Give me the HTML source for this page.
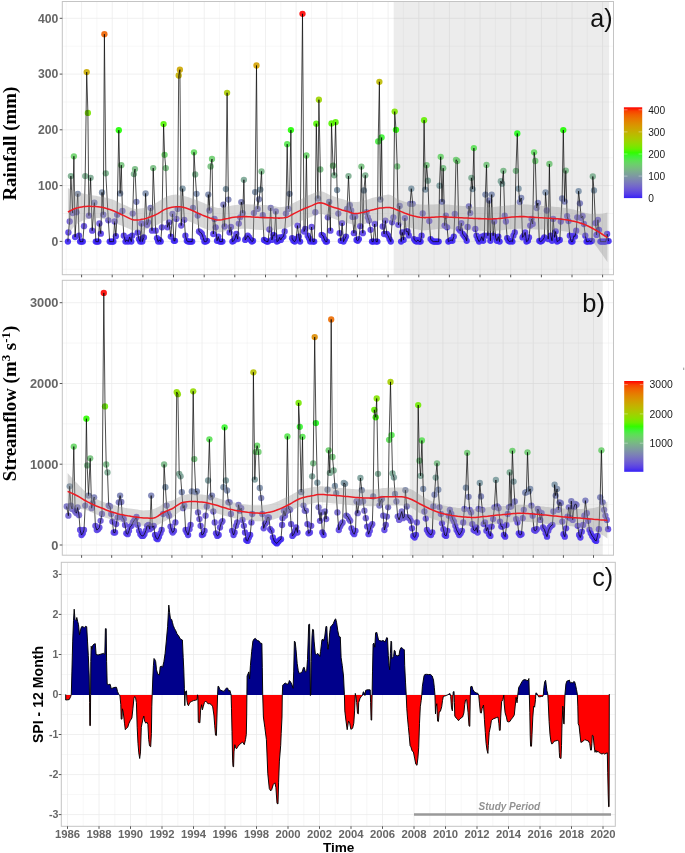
<!DOCTYPE html>
<html><head><meta charset="utf-8"><title>Rainfall, Streamflow and SPI</title>
<style>html,body{margin:0;padding:0;background:#fff}body{width:685px;height:853px;overflow:hidden;font-family:"Liberation Sans",sans-serif}svg{display:block;will-change:transform}</style></head>
<body>
<svg width="685" height="853" viewBox="0 0 685 853" font-family="'Liberation Sans', sans-serif">
<rect width="685" height="853" fill="#fff"/>
<rect x="62.3" y="1.5" width="551.2" height="273.2" fill="#fff"/>
<path d="M66.3 1.5V274.7M96.9 1.5V274.7M127.6 1.5V274.7M158.2 1.5V274.7M188.9 1.5V274.7M219.6 1.5V274.7M250.2 1.5V274.7M280.8 1.5V274.7M311.5 1.5V274.7M342.1 1.5V274.7M372.8 1.5V274.7M403.4 1.5V274.7M434.1 1.5V274.7M464.8 1.5V274.7M495.4 1.5V274.7M526 1.5V274.7M556.7 1.5V274.7M587.3 1.5V274.7M62.3 269.3H613.5M62.3 213.5H613.5M62.3 157.7H613.5M62.3 102H613.5M62.3 46.2H613.5" stroke="#ebebeb" stroke-width="0.4" fill="none"/>
<path d="M81.6 1.5V274.7M112.2 1.5V274.7M142.9 1.5V274.7M173.5 1.5V274.7M204.2 1.5V274.7M234.8 1.5V274.7M265.5 1.5V274.7M296.1 1.5V274.7M326.8 1.5V274.7M357.4 1.5V274.7M388.1 1.5V274.7M418.8 1.5V274.7M449.4 1.5V274.7M480 1.5V274.7M510.7 1.5V274.7M541.4 1.5V274.7M572 1.5V274.7M602.6 1.5V274.7M62.3 241.4H613.5M62.3 185.6H613.5M62.3 129.8H613.5M62.3 74.1H613.5M62.3 18.3H613.5" stroke="#ebebeb" stroke-width="0.75" fill="none"/>
<rect x="393.7" y="1.5" width="215.4" height="273.2" fill="#7f7f7f" fill-opacity="0.15"/>
<clipPath id="ca"><rect x="62.3" y="1.5" width="551.2" height="273.2"/></clipPath><g clip-path="url(#ca)">
<g fill-opacity="0.9"><circle cx="67.9" cy="241.6" r="3.15" fill="#3d26f4"/><circle cx="68.4" cy="232.4" r="3.15" fill="#583fe6"/><circle cx="69.7" cy="221.5" r="3.15" fill="#6a57d6"/><circle cx="70.9" cy="176.1" r="3.15" fill="#7bad8e"/><circle cx="72.6" cy="213.1" r="3.15" fill="#7368c9"/><circle cx="73.9" cy="156.3" r="3.15" fill="#6ad168"/><circle cx="75.1" cy="237.1" r="3.15" fill="#4c33ed"/><circle cx="76.5" cy="212.2" r="3.15" fill="#746ac8"/><circle cx="77.8" cy="193.8" r="3.15" fill="#7d8dac"/><circle cx="79.0" cy="235.7" r="3.15" fill="#5037eb"/><circle cx="80.1" cy="241.6" r="3.15" fill="#3d26f4"/><circle cx="81.5" cy="241.6" r="3.15" fill="#3d26f4"/><circle cx="82.8" cy="241.6" r="3.15" fill="#3d26f4"/><circle cx="84.0" cy="226.2" r="3.15" fill="#634ddd"/><circle cx="85.2" cy="176.1" r="3.15" fill="#7bad8e"/><circle cx="86.7" cy="72.1" r="3.15" fill="#c9aa00"/><circle cx="87.9" cy="112.9" r="3.15" fill="#7ce600"/><circle cx="88.9" cy="215.6" r="3.15" fill="#7163cd"/><circle cx="90.6" cy="177.8" r="3.15" fill="#7caa91"/><circle cx="92.2" cy="230.7" r="3.15" fill="#5b43e4"/><circle cx="94.4" cy="202.7" r="3.15" fill="#7a7cba"/><circle cx="95.8" cy="241.6" r="3.15" fill="#3d26f4"/><circle cx="97.1" cy="241.6" r="3.15" fill="#3d26f4"/><circle cx="98.4" cy="241.6" r="3.15" fill="#3d26f4"/><circle cx="99.4" cy="223.5" r="3.15" fill="#6753d9"/><circle cx="100.8" cy="233.7" r="3.15" fill="#553ce8"/><circle cx="102.0" cy="192.4" r="3.15" fill="#7d8fa9"/><circle cx="103.3" cy="214.7" r="3.15" fill="#7165cc"/><circle cx="104.4" cy="34.2" r="3.15" fill="#f06300"/><circle cx="105.8" cy="173.3" r="3.15" fill="#79b389"/><circle cx="108.3" cy="220.3" r="3.15" fill="#6b5ad4"/><circle cx="109.7" cy="241.6" r="3.15" fill="#3d26f4"/><circle cx="111.0" cy="241.6" r="3.15" fill="#3d26f4"/><circle cx="112.4" cy="241.6" r="3.15" fill="#3d26f4"/><circle cx="113.4" cy="241.6" r="3.15" fill="#3d26f4"/><circle cx="114.6" cy="221.5" r="3.15" fill="#6a57d6"/><circle cx="115.9" cy="236.2" r="3.15" fill="#4e36ec"/><circle cx="117.1" cy="214.7" r="3.15" fill="#7165cc"/><circle cx="118.8" cy="130.2" r="3.15" fill="#1ffd00"/><circle cx="120.1" cy="193.4" r="3.15" fill="#7d8eab"/><circle cx="121.3" cy="165.2" r="3.15" fill="#74c17b"/><circle cx="122.4" cy="210.9" r="3.15" fill="#756cc6"/><circle cx="123.8" cy="235.7" r="3.15" fill="#5037eb"/><circle cx="125.5" cy="241.6" r="3.15" fill="#3d26f4"/><circle cx="126.8" cy="239.9" r="3.15" fill="#432bf1"/><circle cx="128.2" cy="241.6" r="3.15" fill="#3d26f4"/><circle cx="129.7" cy="237.1" r="3.15" fill="#4c33ed"/><circle cx="131.3" cy="241.6" r="3.15" fill="#3d26f4"/><circle cx="132.2" cy="235.7" r="3.15" fill="#5037eb"/><circle cx="132.7" cy="213.6" r="3.15" fill="#7367ca"/><circle cx="133.9" cy="174.1" r="3.15" fill="#7ab18b"/><circle cx="135.0" cy="169.1" r="3.15" fill="#77ba82"/><circle cx="136.4" cy="201.8" r="3.15" fill="#7a7eb8"/><circle cx="137.6" cy="232.7" r="3.15" fill="#573ee7"/><circle cx="138.9" cy="239.1" r="3.15" fill="#462ef0"/><circle cx="140.2" cy="241.6" r="3.15" fill="#3d26f4"/><circle cx="141.4" cy="223.5" r="3.15" fill="#6753d9"/><circle cx="142.3" cy="241.6" r="3.15" fill="#3d26f4"/><circle cx="143.9" cy="237.4" r="3.15" fill="#4b33ee"/><circle cx="145.6" cy="193.4" r="3.15" fill="#7d8eab"/><circle cx="147.0" cy="224.8" r="3.15" fill="#6550db"/><circle cx="148.1" cy="222.3" r="3.15" fill="#6956d7"/><circle cx="150.6" cy="208.0" r="3.15" fill="#7772c2"/><circle cx="152.0" cy="230.7" r="3.15" fill="#5b43e4"/><circle cx="153.2" cy="168.1" r="3.15" fill="#76bc80"/><circle cx="155.7" cy="230.7" r="3.15" fill="#5b43e4"/><circle cx="157.0" cy="238.2" r="3.15" fill="#4930ef"/><circle cx="158.2" cy="241.6" r="3.15" fill="#3d26f4"/><circle cx="159.4" cy="239.9" r="3.15" fill="#432bf1"/><circle cx="160.7" cy="241.6" r="3.15" fill="#3d26f4"/><circle cx="161.9" cy="227.3" r="3.15" fill="#614bdf"/><circle cx="163.6" cy="124.1" r="3.15" fill="#51f500"/><circle cx="164.6" cy="154.8" r="3.15" fill="#67d465"/><circle cx="165.8" cy="168.1" r="3.15" fill="#76bc80"/><circle cx="167.4" cy="227.3" r="3.15" fill="#614bdf"/><circle cx="169.1" cy="222.3" r="3.15" fill="#6956d7"/><circle cx="170.8" cy="236.6" r="3.15" fill="#4d35ec"/><circle cx="172.5" cy="213.9" r="3.15" fill="#7267cb"/><circle cx="173.9" cy="240.8" r="3.15" fill="#4029f3"/><circle cx="175.0" cy="240.8" r="3.15" fill="#4029f3"/><circle cx="176.4" cy="218.9" r="3.15" fill="#6d5cd2"/><circle cx="177.6" cy="208.9" r="3.15" fill="#7670c3"/><circle cx="178.7" cy="75.5" r="3.15" fill="#c5b000"/><circle cx="179.9" cy="69.7" r="3.15" fill="#cca600"/><circle cx="181.2" cy="225.6" r="3.15" fill="#644edc"/><circle cx="182.6" cy="188.7" r="3.15" fill="#7d96a4"/><circle cx="184.3" cy="219.8" r="3.15" fill="#6c5bd4"/><circle cx="185.4" cy="235.7" r="3.15" fill="#5037eb"/><circle cx="186.8" cy="240.8" r="3.15" fill="#4029f3"/><circle cx="188.1" cy="241.6" r="3.15" fill="#3d26f4"/><circle cx="189.5" cy="241.6" r="3.15" fill="#3d26f4"/><circle cx="190.8" cy="241.6" r="3.15" fill="#3d26f4"/><circle cx="192.2" cy="241.6" r="3.15" fill="#3d26f4"/><circle cx="193.0" cy="208.0" r="3.15" fill="#7772c2"/><circle cx="194.0" cy="152.3" r="3.15" fill="#63d95f"/><circle cx="195.2" cy="174.4" r="3.15" fill="#7ab08c"/><circle cx="196.5" cy="193.8" r="3.15" fill="#7d8dac"/><circle cx="197.7" cy="215.6" r="3.15" fill="#7163cd"/><circle cx="199.0" cy="231.5" r="3.15" fill="#5941e5"/><circle cx="200.6" cy="232.4" r="3.15" fill="#583fe6"/><circle cx="201.9" cy="234.0" r="3.15" fill="#543be9"/><circle cx="203.1" cy="237.4" r="3.15" fill="#4b33ee"/><circle cx="204.4" cy="241.6" r="3.15" fill="#3d26f4"/><circle cx="205.8" cy="241.6" r="3.15" fill="#3d26f4"/><circle cx="207.1" cy="240.8" r="3.15" fill="#4029f3"/><circle cx="208.3" cy="194.6" r="3.15" fill="#7d8bad"/><circle cx="209.4" cy="210.5" r="3.15" fill="#756dc6"/><circle cx="210.6" cy="166.4" r="3.15" fill="#75bf7d"/><circle cx="212.0" cy="159.0" r="3.15" fill="#6dcd6e"/><circle cx="213.3" cy="234.0" r="3.15" fill="#543be9"/><circle cx="214.5" cy="218.9" r="3.15" fill="#6d5cd2"/><circle cx="215.7" cy="227.3" r="3.15" fill="#614bdf"/><circle cx="217.0" cy="240.8" r="3.15" fill="#4029f3"/><circle cx="218.3" cy="236.6" r="3.15" fill="#4d35ec"/><circle cx="219.7" cy="241.6" r="3.15" fill="#3d26f4"/><circle cx="221.0" cy="241.6" r="3.15" fill="#3d26f4"/><circle cx="222.4" cy="241.6" r="3.15" fill="#3d26f4"/><circle cx="223.4" cy="204.7" r="3.15" fill="#7978bd"/><circle cx="224.6" cy="226.5" r="3.15" fill="#634dde"/><circle cx="225.9" cy="189.1" r="3.15" fill="#7d96a4"/><circle cx="227.1" cy="92.8" r="3.15" fill="#aaca00"/><circle cx="228.4" cy="199.6" r="3.15" fill="#7b82b5"/><circle cx="229.6" cy="232.4" r="3.15" fill="#583fe6"/><circle cx="230.9" cy="227.0" r="3.15" fill="#624bde"/><circle cx="232.4" cy="241.6" r="3.15" fill="#3d26f4"/><circle cx="233.8" cy="240.8" r="3.15" fill="#4029f3"/><circle cx="235.1" cy="238.2" r="3.15" fill="#4930ef"/><circle cx="236.3" cy="234.0" r="3.15" fill="#543be9"/><circle cx="237.7" cy="239.1" r="3.15" fill="#462ef0"/><circle cx="238.8" cy="223.6" r="3.15" fill="#6753d9"/><circle cx="240.2" cy="217.3" r="3.15" fill="#6f60d0"/><circle cx="241.3" cy="202.1" r="3.15" fill="#7a7db9"/><circle cx="242.7" cy="213.1" r="3.15" fill="#7368c9"/><circle cx="243.9" cy="179.8" r="3.15" fill="#7ca795"/><circle cx="245.2" cy="239.9" r="3.15" fill="#432bf1"/><circle cx="246.5" cy="238.2" r="3.15" fill="#4930ef"/><circle cx="247.7" cy="235.7" r="3.15" fill="#5037eb"/><circle cx="249.1" cy="237.4" r="3.15" fill="#4b33ee"/><circle cx="250.6" cy="239.9" r="3.15" fill="#432bf1"/><circle cx="251.9" cy="241.6" r="3.15" fill="#3d26f4"/><circle cx="253.1" cy="240.8" r="3.15" fill="#4029f3"/><circle cx="253.9" cy="213.1" r="3.15" fill="#7368c9"/><circle cx="255.1" cy="192.1" r="3.15" fill="#7d90a9"/><circle cx="256.5" cy="65.5" r="3.15" fill="#d1a000"/><circle cx="257.6" cy="208.9" r="3.15" fill="#7670c3"/><circle cx="259.0" cy="199.3" r="3.15" fill="#7c83b4"/><circle cx="260.3" cy="189.6" r="3.15" fill="#7d95a5"/><circle cx="261.5" cy="171.4" r="3.15" fill="#78b686"/><circle cx="262.8" cy="215.2" r="3.15" fill="#7164cd"/><circle cx="264.0" cy="239.9" r="3.15" fill="#432bf1"/><circle cx="265.4" cy="240.8" r="3.15" fill="#4029f3"/><circle cx="266.7" cy="241.6" r="3.15" fill="#3d26f4"/><circle cx="268.0" cy="241.6" r="3.15" fill="#3d26f4"/><circle cx="269.4" cy="229.5" r="3.15" fill="#5d46e2"/><circle cx="270.7" cy="208.0" r="3.15" fill="#7772c2"/><circle cx="271.9" cy="239.9" r="3.15" fill="#432bf1"/><circle cx="273.2" cy="234.9" r="3.15" fill="#5239ea"/><circle cx="274.4" cy="235.7" r="3.15" fill="#5037eb"/><circle cx="275.8" cy="211.4" r="3.15" fill="#746bc7"/><circle cx="276.9" cy="241.6" r="3.15" fill="#3d26f4"/><circle cx="278.3" cy="240.8" r="3.15" fill="#4029f3"/><circle cx="279.6" cy="237.4" r="3.15" fill="#4b33ee"/><circle cx="280.8" cy="239.9" r="3.15" fill="#432bf1"/><circle cx="282.1" cy="237.4" r="3.15" fill="#4b33ee"/><circle cx="283.4" cy="236.6" r="3.15" fill="#4d35ec"/><circle cx="284.7" cy="231.5" r="3.15" fill="#5941e5"/><circle cx="285.9" cy="213.6" r="3.15" fill="#7367ca"/><circle cx="287.2" cy="144.2" r="3.15" fill="#52e74a"/><circle cx="288.4" cy="208.9" r="3.15" fill="#7670c3"/><circle cx="289.6" cy="193.8" r="3.15" fill="#7d8dac"/><circle cx="290.9" cy="130.1" r="3.15" fill="#20fd00"/><circle cx="292.1" cy="238.2" r="3.15" fill="#4930ef"/><circle cx="293.4" cy="240.8" r="3.15" fill="#4029f3"/><circle cx="294.8" cy="241.6" r="3.15" fill="#3d26f4"/><circle cx="296.1" cy="239.1" r="3.15" fill="#462ef0"/><circle cx="297.5" cy="225.6" r="3.15" fill="#644edc"/><circle cx="298.8" cy="236.6" r="3.15" fill="#4d35ec"/><circle cx="300.1" cy="241.6" r="3.15" fill="#3d26f4"/><circle cx="302.5" cy="13.8" r="3.15" fill="#ff0200"/><circle cx="304.0" cy="231.5" r="3.15" fill="#5941e5"/><circle cx="305.2" cy="229.0" r="3.15" fill="#5e47e1"/><circle cx="306.4" cy="155.5" r="3.15" fill="#68d367"/><circle cx="307.7" cy="235.7" r="3.15" fill="#5037eb"/><circle cx="309.0" cy="238.2" r="3.15" fill="#4930ef"/><circle cx="310.2" cy="241.6" r="3.15" fill="#3d26f4"/><circle cx="311.6" cy="227.0" r="3.15" fill="#624bde"/><circle cx="312.9" cy="241.6" r="3.15" fill="#3d26f4"/><circle cx="314.2" cy="241.6" r="3.15" fill="#3d26f4"/><circle cx="315.3" cy="212.2" r="3.15" fill="#746ac8"/><circle cx="316.3" cy="123.7" r="3.15" fill="#53f500"/><circle cx="317.9" cy="198.5" r="3.15" fill="#7c84b3"/><circle cx="318.9" cy="99.7" r="3.15" fill="#9cd400"/><circle cx="320.3" cy="169.4" r="3.15" fill="#77ba82"/><circle cx="321.6" cy="234.9" r="3.15" fill="#5239ea"/><circle cx="323.0" cy="235.7" r="3.15" fill="#5037eb"/><circle cx="324.3" cy="239.1" r="3.15" fill="#462ef0"/><circle cx="325.7" cy="241.6" r="3.15" fill="#3d26f4"/><circle cx="327.0" cy="241.6" r="3.15" fill="#3d26f4"/><circle cx="327.8" cy="217.3" r="3.15" fill="#6f60d0"/><circle cx="329.2" cy="201.8" r="3.15" fill="#7a7eb8"/><circle cx="330.4" cy="230.7" r="3.15" fill="#5b43e4"/><circle cx="331.5" cy="123.4" r="3.15" fill="#54f400"/><circle cx="333.0" cy="165.7" r="3.15" fill="#74c07c"/><circle cx="334.2" cy="175.3" r="3.15" fill="#7aaf8d"/><circle cx="335.6" cy="122.2" r="3.15" fill="#5af300"/><circle cx="337.1" cy="190.1" r="3.15" fill="#7d94a6"/><circle cx="338.3" cy="213.6" r="3.15" fill="#7367ca"/><circle cx="339.6" cy="233.2" r="3.15" fill="#563de8"/><circle cx="340.8" cy="240.8" r="3.15" fill="#4029f3"/><circle cx="342.1" cy="223.1" r="3.15" fill="#6854d9"/><circle cx="343.5" cy="241.6" r="3.15" fill="#3d26f4"/><circle cx="344.8" cy="239.1" r="3.15" fill="#462ef0"/><circle cx="346.0" cy="236.6" r="3.15" fill="#4d35ec"/><circle cx="347.1" cy="208.9" r="3.15" fill="#7670c3"/><circle cx="348.5" cy="176.1" r="3.15" fill="#7bad8e"/><circle cx="349.8" cy="205.2" r="3.15" fill="#7977bd"/><circle cx="351.2" cy="210.5" r="3.15" fill="#756dc6"/><circle cx="352.5" cy="216.9" r="3.15" fill="#6f60cf"/><circle cx="353.9" cy="233.2" r="3.15" fill="#563de8"/><circle cx="355.2" cy="216.4" r="3.15" fill="#7062ce"/><circle cx="356.5" cy="239.9" r="3.15" fill="#432bf1"/><circle cx="357.7" cy="240.8" r="3.15" fill="#4029f3"/><circle cx="358.9" cy="239.1" r="3.15" fill="#462ef0"/><circle cx="360.2" cy="226.2" r="3.15" fill="#634ddd"/><circle cx="361.4" cy="166.6" r="3.15" fill="#75bf7d"/><circle cx="362.8" cy="233.2" r="3.15" fill="#563de8"/><circle cx="363.9" cy="190.4" r="3.15" fill="#7d93a6"/><circle cx="365.3" cy="175.3" r="3.15" fill="#7aaf8d"/><circle cx="366.5" cy="212.2" r="3.15" fill="#746ac8"/><circle cx="367.8" cy="217.3" r="3.15" fill="#6f60d0"/><circle cx="369.0" cy="220.6" r="3.15" fill="#6b59d5"/><circle cx="370.6" cy="229.8" r="3.15" fill="#5d45e3"/><circle cx="372.0" cy="241.6" r="3.15" fill="#3d26f4"/><circle cx="373.3" cy="241.6" r="3.15" fill="#3d26f4"/><circle cx="374.7" cy="224.0" r="3.15" fill="#6652da"/><circle cx="376.0" cy="241.6" r="3.15" fill="#3d26f4"/><circle cx="377.4" cy="241.6" r="3.15" fill="#3d26f4"/><circle cx="378.2" cy="141.4" r="3.15" fill="#49ed41"/><circle cx="379.4" cy="81.8" r="3.15" fill="#bcb900"/><circle cx="380.4" cy="199.6" r="3.15" fill="#7b82b5"/><circle cx="381.6" cy="137.5" r="3.15" fill="#3bf432"/><circle cx="382.7" cy="226.5" r="3.15" fill="#634dde"/><circle cx="384.1" cy="234.0" r="3.15" fill="#543be9"/><circle cx="385.4" cy="220.6" r="3.15" fill="#6b59d5"/><circle cx="386.8" cy="234.0" r="3.15" fill="#543be9"/><circle cx="388.1" cy="235.7" r="3.15" fill="#5037eb"/><circle cx="389.5" cy="239.1" r="3.15" fill="#462ef0"/><circle cx="390.8" cy="241.6" r="3.15" fill="#3d26f4"/><circle cx="392.1" cy="222.3" r="3.15" fill="#6956d7"/><circle cx="393.4" cy="217.3" r="3.15" fill="#6f60d0"/><circle cx="394.7" cy="111.6" r="3.15" fill="#80e400"/><circle cx="396.0" cy="129.8" r="3.15" fill="#25fd00"/><circle cx="397.2" cy="166.4" r="3.15" fill="#75bf7d"/><circle cx="398.4" cy="224.8" r="3.15" fill="#6550db"/><circle cx="399.7" cy="206.0" r="3.15" fill="#7876bf"/><circle cx="401.1" cy="241.6" r="3.15" fill="#3d26f4"/><circle cx="402.3" cy="232.4" r="3.15" fill="#583fe6"/><circle cx="403.6" cy="239.9" r="3.15" fill="#432bf1"/><circle cx="404.9" cy="218.1" r="3.15" fill="#6e5ed1"/><circle cx="406.3" cy="231.5" r="3.15" fill="#5941e5"/><circle cx="407.6" cy="231.5" r="3.15" fill="#5941e5"/><circle cx="408.8" cy="235.4" r="3.15" fill="#5038eb"/><circle cx="410.1" cy="203.8" r="3.15" fill="#7a7abb"/><circle cx="411.3" cy="188.7" r="3.15" fill="#7d96a4"/><circle cx="412.7" cy="203.8" r="3.15" fill="#7a7abb"/><circle cx="414.0" cy="239.1" r="3.15" fill="#462ef0"/><circle cx="415.2" cy="240.8" r="3.15" fill="#4029f3"/><circle cx="416.5" cy="241.6" r="3.15" fill="#3d26f4"/><circle cx="417.9" cy="239.9" r="3.15" fill="#432bf1"/><circle cx="419.2" cy="241.6" r="3.15" fill="#3d26f4"/><circle cx="420.6" cy="241.6" r="3.15" fill="#3d26f4"/><circle cx="421.6" cy="235.7" r="3.15" fill="#5037eb"/><circle cx="422.7" cy="213.4" r="3.15" fill="#7368ca"/><circle cx="424.1" cy="120.2" r="3.15" fill="#63f000"/><circle cx="425.3" cy="189.6" r="3.15" fill="#7d95a5"/><circle cx="426.6" cy="165.2" r="3.15" fill="#74c17b"/><circle cx="427.9" cy="180.7" r="3.15" fill="#7ca596"/><circle cx="429.3" cy="221.1" r="3.15" fill="#6a58d6"/><circle cx="430.6" cy="239.1" r="3.15" fill="#462ef0"/><circle cx="432.0" cy="240.8" r="3.15" fill="#4029f3"/><circle cx="433.3" cy="241.6" r="3.15" fill="#3d26f4"/><circle cx="434.7" cy="241.6" r="3.15" fill="#3d26f4"/><circle cx="436.0" cy="241.6" r="3.15" fill="#3d26f4"/><circle cx="437.3" cy="241.6" r="3.15" fill="#3d26f4"/><circle cx="438.7" cy="241.6" r="3.15" fill="#3d26f4"/><circle cx="439.5" cy="185.7" r="3.15" fill="#7d9c9f"/><circle cx="440.7" cy="156.8" r="3.15" fill="#6ad16a"/><circle cx="442.0" cy="201.8" r="3.15" fill="#7a7eb8"/><circle cx="443.2" cy="168.2" r="3.15" fill="#76bc80"/><circle cx="444.6" cy="225.6" r="3.15" fill="#644edc"/><circle cx="445.9" cy="215.6" r="3.15" fill="#7163cd"/><circle cx="447.1" cy="227.3" r="3.15" fill="#614bdf"/><circle cx="448.4" cy="241.6" r="3.15" fill="#3d26f4"/><circle cx="449.8" cy="240.8" r="3.15" fill="#4029f3"/><circle cx="451.1" cy="239.9" r="3.15" fill="#432bf1"/><circle cx="452.4" cy="240.8" r="3.15" fill="#4029f3"/><circle cx="453.8" cy="236.6" r="3.15" fill="#4d35ec"/><circle cx="454.8" cy="213.9" r="3.15" fill="#7267cb"/><circle cx="456.0" cy="159.8" r="3.15" fill="#6ecb70"/><circle cx="457.3" cy="161.0" r="3.15" fill="#6fc972"/><circle cx="458.8" cy="229.0" r="3.15" fill="#5e47e1"/><circle cx="460.2" cy="230.7" r="3.15" fill="#5b43e4"/><circle cx="461.3" cy="223.1" r="3.15" fill="#6854d9"/><circle cx="462.7" cy="234.0" r="3.15" fill="#543be9"/><circle cx="464.0" cy="235.7" r="3.15" fill="#5037eb"/><circle cx="465.4" cy="237.4" r="3.15" fill="#4b33ee"/><circle cx="466.7" cy="240.8" r="3.15" fill="#4029f3"/><circle cx="467.6" cy="227.0" r="3.15" fill="#624bde"/><circle cx="468.9" cy="206.3" r="3.15" fill="#7875bf"/><circle cx="470.2" cy="213.1" r="3.15" fill="#7368c9"/><circle cx="471.4" cy="177.8" r="3.15" fill="#7caa91"/><circle cx="472.6" cy="189.1" r="3.15" fill="#7d96a4"/><circle cx="473.9" cy="148.1" r="3.15" fill="#5be055"/><circle cx="475.3" cy="229.0" r="3.15" fill="#5e47e1"/><circle cx="476.5" cy="235.7" r="3.15" fill="#5037eb"/><circle cx="477.8" cy="239.1" r="3.15" fill="#462ef0"/><circle cx="479.1" cy="241.6" r="3.15" fill="#3d26f4"/><circle cx="480.5" cy="239.9" r="3.15" fill="#432bf1"/><circle cx="481.8" cy="236.6" r="3.15" fill="#4d35ec"/><circle cx="483.2" cy="240.8" r="3.15" fill="#4029f3"/><circle cx="484.3" cy="235.7" r="3.15" fill="#5037eb"/><circle cx="485.4" cy="194.6" r="3.15" fill="#7d8bad"/><circle cx="486.5" cy="164.9" r="3.15" fill="#73c27a"/><circle cx="487.9" cy="235.7" r="3.15" fill="#5037eb"/><circle cx="489.2" cy="200.5" r="3.15" fill="#7b80b6"/><circle cx="490.4" cy="240.8" r="3.15" fill="#4029f3"/><circle cx="491.7" cy="194.6" r="3.15" fill="#7d8bad"/><circle cx="493.1" cy="235.7" r="3.15" fill="#5037eb"/><circle cx="494.2" cy="221.5" r="3.15" fill="#6a57d6"/><circle cx="495.6" cy="237.4" r="3.15" fill="#4b33ee"/><circle cx="496.9" cy="240.8" r="3.15" fill="#4029f3"/><circle cx="498.3" cy="236.6" r="3.15" fill="#4d35ec"/><circle cx="499.6" cy="241.6" r="3.15" fill="#3d26f4"/><circle cx="500.8" cy="181.2" r="3.15" fill="#7da497"/><circle cx="502.1" cy="183.7" r="3.15" fill="#7da09b"/><circle cx="503.4" cy="170.8" r="3.15" fill="#78b785"/><circle cx="504.7" cy="215.6" r="3.15" fill="#7163cd"/><circle cx="505.9" cy="221.5" r="3.15" fill="#6a57d6"/><circle cx="507.2" cy="238.2" r="3.15" fill="#4930ef"/><circle cx="508.4" cy="240.8" r="3.15" fill="#4029f3"/><circle cx="509.7" cy="241.6" r="3.15" fill="#3d26f4"/><circle cx="511.1" cy="240.8" r="3.15" fill="#4029f3"/><circle cx="512.4" cy="241.6" r="3.15" fill="#3d26f4"/><circle cx="513.4" cy="235.7" r="3.15" fill="#5037eb"/><circle cx="514.8" cy="232.4" r="3.15" fill="#583fe6"/><circle cx="515.9" cy="170.8" r="3.15" fill="#78b785"/><circle cx="517.3" cy="133.5" r="3.15" fill="#21fb1b"/><circle cx="518.6" cy="188.7" r="3.15" fill="#7d96a4"/><circle cx="519.8" cy="202.1" r="3.15" fill="#7a7db9"/><circle cx="521.2" cy="198.0" r="3.15" fill="#7c85b2"/><circle cx="522.5" cy="237.4" r="3.15" fill="#4b33ee"/><circle cx="523.8" cy="235.7" r="3.15" fill="#5037eb"/><circle cx="525.2" cy="232.4" r="3.15" fill="#583fe6"/><circle cx="526.5" cy="241.6" r="3.15" fill="#3d26f4"/><circle cx="527.9" cy="240.8" r="3.15" fill="#4029f3"/><circle cx="529.0" cy="237.4" r="3.15" fill="#4b33ee"/><circle cx="530.2" cy="225.6" r="3.15" fill="#644edc"/><circle cx="531.6" cy="218.9" r="3.15" fill="#6d5cd2"/><circle cx="532.7" cy="224.0" r="3.15" fill="#6652da"/><circle cx="534.1" cy="152.3" r="3.15" fill="#63d95f"/><circle cx="535.3" cy="161.0" r="3.15" fill="#6fc972"/><circle cx="536.6" cy="208.0" r="3.15" fill="#7772c2"/><circle cx="537.9" cy="203.0" r="3.15" fill="#7a7cba"/><circle cx="539.3" cy="240.8" r="3.15" fill="#4029f3"/><circle cx="540.6" cy="241.6" r="3.15" fill="#3d26f4"/><circle cx="542.0" cy="240.8" r="3.15" fill="#4029f3"/><circle cx="543.3" cy="239.1" r="3.15" fill="#462ef0"/><circle cx="544.3" cy="237.4" r="3.15" fill="#4b33ee"/><circle cx="545.5" cy="192.4" r="3.15" fill="#7d8fa9"/><circle cx="546.8" cy="210.5" r="3.15" fill="#756dc6"/><circle cx="548.2" cy="239.1" r="3.15" fill="#462ef0"/><circle cx="549.4" cy="164.0" r="3.15" fill="#73c378"/><circle cx="550.7" cy="235.7" r="3.15" fill="#5037eb"/><circle cx="552.0" cy="240.8" r="3.15" fill="#4029f3"/><circle cx="553.2" cy="218.9" r="3.15" fill="#6d5cd2"/><circle cx="554.6" cy="237.4" r="3.15" fill="#4b33ee"/><circle cx="555.7" cy="231.5" r="3.15" fill="#5941e5"/><circle cx="557.1" cy="241.6" r="3.15" fill="#3d26f4"/><circle cx="558.4" cy="240.8" r="3.15" fill="#4029f3"/><circle cx="559.8" cy="239.9" r="3.15" fill="#432bf1"/><circle cx="560.8" cy="221.5" r="3.15" fill="#6a57d6"/><circle cx="562.1" cy="198.5" r="3.15" fill="#7c84b3"/><circle cx="563.3" cy="130.1" r="3.15" fill="#20fd00"/><circle cx="564.6" cy="201.6" r="3.15" fill="#7b7eb8"/><circle cx="565.8" cy="170.6" r="3.15" fill="#78b785"/><circle cx="567.1" cy="216.1" r="3.15" fill="#7062ce"/><circle cx="568.5" cy="221.1" r="3.15" fill="#6a58d6"/><circle cx="569.8" cy="235.7" r="3.15" fill="#5037eb"/><circle cx="571.2" cy="241.6" r="3.15" fill="#3d26f4"/><circle cx="572.5" cy="241.6" r="3.15" fill="#3d26f4"/><circle cx="573.9" cy="235.7" r="3.15" fill="#5037eb"/><circle cx="575.0" cy="236.6" r="3.15" fill="#4d35ec"/><circle cx="576.2" cy="230.7" r="3.15" fill="#5b43e4"/><circle cx="577.2" cy="217.3" r="3.15" fill="#6f60d0"/><circle cx="578.6" cy="191.2" r="3.15" fill="#7d92a8"/><circle cx="579.9" cy="203.3" r="3.15" fill="#7a7bbb"/><circle cx="581.2" cy="218.1" r="3.15" fill="#6e5ed1"/><circle cx="582.6" cy="216.1" r="3.15" fill="#7062ce"/><circle cx="583.9" cy="224.0" r="3.15" fill="#6652da"/><circle cx="585.3" cy="235.7" r="3.15" fill="#5037eb"/><circle cx="586.6" cy="241.6" r="3.15" fill="#3d26f4"/><circle cx="588.0" cy="241.6" r="3.15" fill="#3d26f4"/><circle cx="589.3" cy="240.8" r="3.15" fill="#4029f3"/><circle cx="590.6" cy="241.6" r="3.15" fill="#3d26f4"/><circle cx="592.0" cy="240.8" r="3.15" fill="#4029f3"/><circle cx="592.8" cy="176.5" r="3.15" fill="#7bad8f"/><circle cx="594.0" cy="190.4" r="3.15" fill="#7d93a6"/><circle cx="595.4" cy="223.1" r="3.15" fill="#6854d9"/><circle cx="596.5" cy="234.9" r="3.15" fill="#5239ea"/><circle cx="597.9" cy="219.8" r="3.15" fill="#6c5bd4"/><circle cx="599.0" cy="229.8" r="3.15" fill="#5d45e3"/><circle cx="600.4" cy="241.6" r="3.15" fill="#3d26f4"/><circle cx="601.7" cy="241.6" r="3.15" fill="#3d26f4"/><circle cx="603.1" cy="241.6" r="3.15" fill="#3d26f4"/><circle cx="604.4" cy="241.6" r="3.15" fill="#3d26f4"/><circle cx="605.8" cy="241.6" r="3.15" fill="#3d26f4"/><circle cx="607.1" cy="234.0" r="3.15" fill="#543be9"/><circle cx="608.6" cy="241.1" r="3.15" fill="#3f28f3"/></g>
<path d="M67.9 241.6L68.4 232.4L69.7 221.5L70.9 176.1L72.6 213.1L73.9 156.3L75.1 237.1L76.5 212.2L77.8 193.8L79.0 235.7L80.1 241.6L81.5 241.6L82.8 241.6L84.0 226.2L85.2 176.1L86.7 72.1L87.9 112.9L88.9 215.6L90.6 177.8L92.2 230.7L94.4 202.7L95.8 241.6L97.1 241.6L98.4 241.6L99.4 223.5L100.8 233.7L102.0 192.4L103.3 214.7L104.4 34.2L105.8 173.3L108.3 220.3L109.7 241.6L111.0 241.6L112.4 241.6L113.4 241.6L114.6 221.5L115.9 236.2L117.1 214.7L118.8 130.2L120.1 193.4L121.3 165.2L122.4 210.9L123.8 235.7L125.5 241.6L126.8 239.9L128.2 241.6L129.7 237.1L131.3 241.6L132.2 235.7L132.7 213.6L133.9 174.1L135.0 169.1L136.4 201.8L137.6 232.7L138.9 239.1L140.2 241.6L141.4 223.5L142.3 241.6L143.9 237.4L145.6 193.4L147.0 224.8L148.1 222.3L150.6 208.0L152.0 230.7L153.2 168.1L155.7 230.7L157.0 238.2L158.2 241.6L159.4 239.9L160.7 241.6L161.9 227.3L163.6 124.1L164.6 154.8L165.8 168.1L167.4 227.3L169.1 222.3L170.8 236.6L172.5 213.9L173.9 240.8L175.0 240.8L176.4 218.9L177.6 208.9L178.7 75.5L179.9 69.7L181.2 225.6L182.6 188.7L184.3 219.8L185.4 235.7L186.8 240.8L188.1 241.6L189.5 241.6L190.8 241.6L192.2 241.6L193.0 208.0L194.0 152.3L195.2 174.4L196.5 193.8L197.7 215.6L199.0 231.5L200.6 232.4L201.9 234.0L203.1 237.4L204.4 241.6L205.8 241.6L207.1 240.8L208.3 194.6L209.4 210.5L210.6 166.4L212.0 159.0L213.3 234.0L214.5 218.9L215.7 227.3L217.0 240.8L218.3 236.6L219.7 241.6L221.0 241.6L222.4 241.6L223.4 204.7L224.6 226.5L225.9 189.1L227.1 92.8L228.4 199.6L229.6 232.4L230.9 227.0L232.4 241.6L233.8 240.8L235.1 238.2L236.3 234.0L237.7 239.1L238.8 223.6L240.2 217.3L241.3 202.1L242.7 213.1L243.9 179.8L245.2 239.9L246.5 238.2L247.7 235.7L249.1 237.4L250.6 239.9L251.9 241.6L253.1 240.8L253.9 213.1L255.1 192.1L256.5 65.5L257.6 208.9L259.0 199.3L260.3 189.6L261.5 171.4L262.8 215.2L264.0 239.9L265.4 240.8L266.7 241.6L268.0 241.6L269.4 229.5L270.7 208.0L271.9 239.9L273.2 234.9L274.4 235.7L275.8 211.4L276.9 241.6L278.3 240.8L279.6 237.4L280.8 239.9L282.1 237.4L283.4 236.6L284.7 231.5L285.9 213.6L287.2 144.2L288.4 208.9L289.6 193.8L290.9 130.1L292.1 238.2L293.4 240.8L294.8 241.6L296.1 239.1L297.5 225.6L298.8 236.6L300.1 241.6L302.5 13.8L304.0 231.5L305.2 229.0L306.4 155.5L307.7 235.7L309.0 238.2L310.2 241.6L311.6 227.0L312.9 241.6L314.2 241.6L315.3 212.2L316.3 123.7L317.9 198.5L318.9 99.7L320.3 169.4L321.6 234.9L323.0 235.7L324.3 239.1L325.7 241.6L327.0 241.6L327.8 217.3L329.2 201.8L330.4 230.7L331.5 123.4L333.0 165.7L334.2 175.3L335.6 122.2L337.1 190.1L338.3 213.6L339.6 233.2L340.8 240.8L342.1 223.1L343.5 241.6L344.8 239.1L346.0 236.6L347.1 208.9L348.5 176.1L349.8 205.2L351.2 210.5L352.5 216.9L353.9 233.2L355.2 216.4L356.5 239.9L357.7 240.8L358.9 239.1L360.2 226.2L361.4 166.6L362.8 233.2L363.9 190.4L365.3 175.3L366.5 212.2L367.8 217.3L369.0 220.6L370.6 229.8L372.0 241.6L373.3 241.6L374.7 224.0L376.0 241.6L377.4 241.6L378.2 141.4L379.4 81.8L380.4 199.6L381.6 137.5L382.7 226.5L384.1 234.0L385.4 220.6L386.8 234.0L388.1 235.7L389.5 239.1L390.8 241.6L392.1 222.3L393.4 217.3L394.7 111.6L396.0 129.8L397.2 166.4L398.4 224.8L399.7 206.0L401.1 241.6L402.3 232.4L403.6 239.9L404.9 218.1L406.3 231.5L407.6 231.5L408.8 235.4L410.1 203.8L411.3 188.7L412.7 203.8L414.0 239.1L415.2 240.8L416.5 241.6L417.9 239.9L419.2 241.6L420.6 241.6L421.6 235.7L422.7 213.4L424.1 120.2L425.3 189.6L426.6 165.2L427.9 180.7L429.3 221.1L430.6 239.1L432.0 240.8L433.3 241.6L434.7 241.6L436.0 241.6L437.3 241.6L438.7 241.6L439.5 185.7L440.7 156.8L442.0 201.8L443.2 168.2L444.6 225.6L445.9 215.6L447.1 227.3L448.4 241.6L449.8 240.8L451.1 239.9L452.4 240.8L453.8 236.6L454.8 213.9L456.0 159.8L457.3 161.0L458.8 229.0L460.2 230.7L461.3 223.1L462.7 234.0L464.0 235.7L465.4 237.4L466.7 240.8L467.6 227.0L468.9 206.3L470.2 213.1L471.4 177.8L472.6 189.1L473.9 148.1L475.3 229.0L476.5 235.7L477.8 239.1L479.1 241.6L480.5 239.9L481.8 236.6L483.2 240.8L484.3 235.7L485.4 194.6L486.5 164.9L487.9 235.7L489.2 200.5L490.4 240.8L491.7 194.6L493.1 235.7L494.2 221.5L495.6 237.4L496.9 240.8L498.3 236.6L499.6 241.6L500.8 181.2L502.1 183.7L503.4 170.8L504.7 215.6L505.9 221.5L507.2 238.2L508.4 240.8L509.7 241.6L511.1 240.8L512.4 241.6L513.4 235.7L514.8 232.4L515.9 170.8L517.3 133.5L518.6 188.7L519.8 202.1L521.2 198.0L522.5 237.4L523.8 235.7L525.2 232.4L526.5 241.6L527.9 240.8L529.0 237.4L530.2 225.6L531.6 218.9L532.7 224.0L534.1 152.3L535.3 161.0L536.6 208.0L537.9 203.0L539.3 240.8L540.6 241.6L542.0 240.8L543.3 239.1L544.3 237.4L545.5 192.4L546.8 210.5L548.2 239.1L549.4 164.0L550.7 235.7L552.0 240.8L553.2 218.9L554.6 237.4L555.7 231.5L557.1 241.6L558.4 240.8L559.8 239.9L560.8 221.5L562.1 198.5L563.3 130.1L564.6 201.6L565.8 170.6L567.1 216.1L568.5 221.1L569.8 235.7L571.2 241.6L572.5 241.6L573.9 235.7L575.0 236.6L576.2 230.7L577.2 217.3L578.6 191.2L579.9 203.3L581.2 218.1L582.6 216.1L583.9 224.0L585.3 235.7L586.6 241.6L588.0 241.6L589.3 240.8L590.6 241.6L592.0 240.8L592.8 176.5L594.0 190.4L595.4 223.1L596.5 234.9L597.9 219.8L599.0 229.8L600.4 241.6L601.7 241.6L603.1 241.6L604.4 241.6L605.8 241.6L607.1 234.0L608.6 241.1" stroke="#000" stroke-width="0.7" fill="none" stroke-linejoin="round"/>
<path d="M67.9 187.9L69.9 189.0L71.9 190.0L73.9 190.9L75.9 191.7L77.9 192.3L79.9 192.8L81.9 193.3L83.9 193.7L85.9 194.1L87.9 194.5L89.9 194.9L91.9 195.2L93.9 195.5L95.9 195.8L97.9 196.2L99.9 196.5L101.9 196.9L103.9 197.3L105.9 197.7L107.9 198.1L109.9 198.7L111.9 199.3L113.9 200.1L115.9 201.0L117.9 202.0L119.9 202.9L121.9 203.9L123.9 204.7L125.9 205.6L127.9 206.6L129.9 207.5L131.9 208.3L133.9 208.8L135.9 208.9L137.9 208.8L139.9 208.6L141.9 208.3L143.9 208.0L145.9 207.5L147.9 206.8L149.9 205.9L151.9 204.9L153.9 203.9L155.9 202.9L157.9 201.8L159.9 200.5L161.9 199.2L163.9 197.9L165.9 196.9L167.9 196.1L169.9 195.5L171.9 195.0L173.9 194.7L175.9 194.6L177.9 195.0L179.9 195.4L181.9 195.7L183.9 196.1L185.9 196.6L187.9 197.1L189.9 197.7L191.9 198.4L193.9 199.1L195.9 199.9L197.9 200.6L199.9 201.5L201.9 202.3L203.9 203.1L205.9 204.0L207.9 204.8L209.9 205.6L211.9 206.3L213.9 206.9L215.9 207.6L217.9 208.0L219.9 207.9L221.9 207.6L223.9 207.1L225.9 206.7L227.9 206.3L229.9 205.9L231.9 205.5L233.9 205.2L235.9 205.0L237.9 204.8L239.9 204.6L241.9 204.4L243.9 204.3L245.9 204.3L247.9 204.3L249.9 204.4L251.9 204.5L253.9 204.5L255.9 204.6L257.9 204.7L259.9 204.8L261.9 204.9L263.9 205.0L265.9 205.1L267.9 205.3L269.9 205.4L271.9 205.7L273.9 206.1L275.9 206.6L277.9 207.0L279.9 207.2L281.9 207.1L283.9 206.7L285.9 206.2L287.9 205.6L289.9 204.8L291.9 203.7L293.9 202.8L295.9 201.8L297.9 200.8L299.9 199.8L301.9 198.7L303.9 197.7L305.9 196.7L307.9 195.6L309.9 194.7L311.9 193.9L313.9 193.0L315.9 192.1L317.9 191.5L319.9 191.2L321.9 191.4L323.9 192.0L325.9 193.0L327.9 194.0L329.9 194.9L331.9 195.6L333.9 196.4L335.9 197.0L337.9 197.7L339.9 198.4L341.9 199.0L343.9 199.6L345.9 200.2L347.9 200.7L349.9 201.2L351.9 201.7L353.9 202.0L355.9 202.1L357.9 201.9L359.9 201.5L361.9 201.0L363.9 200.5L365.9 200.0L367.9 199.4L369.9 198.7L371.9 198.1L373.9 197.5L375.9 197.0L377.9 196.4L379.9 196.0L381.9 195.6L383.9 195.2L385.9 194.9L387.9 194.6L389.9 194.7L391.9 195.5L393.9 196.8L395.9 198.2L397.9 199.4L399.9 200.1L401.9 200.8L403.9 201.4L405.9 201.9L407.9 202.4L409.9 202.8L411.9 203.2L413.9 203.6L415.9 203.9L417.9 204.2L419.9 204.5L421.9 204.6L423.9 204.7L425.9 204.7L427.9 204.6L429.9 204.6L431.9 204.5L433.9 204.4L435.9 204.3L437.9 204.2L439.9 204.2L441.9 204.2L443.9 204.3L445.9 204.4L447.9 204.6L449.9 204.8L451.9 205.0L453.9 205.2L455.9 205.4L457.9 205.6L459.9 205.7L461.9 205.9L463.9 206.1L465.9 206.3L467.9 206.4L469.9 206.6L471.9 206.7L473.9 206.8L475.9 206.9L477.9 206.9L479.9 207.0L481.9 207.1L483.9 207.1L485.9 207.2L487.9 207.2L489.9 207.2L491.9 207.2L493.9 207.0L495.9 206.8L497.9 206.5L499.9 206.3L501.9 206.1L503.9 205.9L505.9 205.6L507.9 205.4L509.9 205.2L511.9 205.0L513.9 204.8L515.9 204.6L517.9 204.4L519.9 204.2L521.9 204.2L523.9 204.3L525.9 204.4L527.9 204.6L529.9 204.8L531.9 205.0L533.9 205.2L535.9 205.4L537.9 205.6L539.9 205.7L541.9 205.9L543.9 206.1L545.9 206.2L547.9 206.4L549.9 206.5L551.9 206.6L553.9 206.8L555.9 206.9L557.9 207.1L559.9 207.3L561.9 207.6L563.9 207.8L565.9 208.1L567.9 208.4L569.9 208.8L571.9 209.2L573.9 209.6L575.9 210.2L577.9 210.7L579.9 211.2L581.9 211.8L583.9 212.4L585.9 213.1L587.9 213.6L589.9 213.9L591.9 213.9L593.9 213.9L595.9 213.9L597.9 213.9L599.9 213.9L601.9 213.8L603.9 213.5L607.4 212.6L607.4 262.1L603.9 256.9L601.9 254.1L599.9 251.4L597.9 248.6L595.9 245.8L593.9 243.2L591.9 241.0L589.9 239.4L587.9 238.2L585.9 237.1L583.9 236.1L581.9 235.4L579.9 234.7L577.9 234.1L575.9 233.6L573.9 233.1L571.9 232.7L569.9 232.3L567.9 231.9L565.9 231.6L563.9 231.3L561.9 231.1L559.9 230.8L557.9 230.6L555.9 230.4L553.9 230.3L551.9 230.1L549.9 230.0L547.9 229.8L545.9 229.7L543.9 229.7L541.9 229.6L539.9 229.5L537.9 229.5L535.9 229.4L533.9 229.3L531.9 229.2L529.9 229.1L527.9 228.9L525.9 228.8L523.9 228.7L521.9 228.7L519.9 228.7L517.9 228.8L515.9 228.9L513.9 229.0L511.9 229.2L509.9 229.3L507.9 229.5L505.9 229.7L503.9 230.0L501.9 230.2L499.9 230.4L497.9 230.6L495.9 230.8L493.9 230.9L491.9 231.0L489.9 231.0L487.9 231.0L485.9 230.9L483.9 230.9L481.9 230.8L479.9 230.7L477.9 230.6L475.9 230.5L473.9 230.4L471.9 230.3L469.9 230.2L467.9 230.0L465.9 229.8L463.9 229.7L461.9 229.5L459.9 229.4L457.9 229.3L455.9 229.3L453.9 229.2L451.9 229.2L449.9 229.1L447.9 229.1L445.9 229.0L443.9 229.0L441.9 229.0L439.9 229.0L437.9 229.1L435.9 229.3L433.9 229.5L431.9 229.7L429.9 229.9L427.9 230.1L425.9 230.3L423.9 230.4L421.9 230.3L419.9 230.0L417.9 229.6L415.9 229.2L413.9 228.7L411.9 228.2L409.9 227.5L407.9 226.9L405.9 226.2L403.9 225.4L401.9 224.5L399.9 223.6L397.9 222.9L395.9 222.3L393.9 221.6L391.9 221.0L389.9 220.7L387.9 220.5L385.9 220.4L383.9 220.4L381.9 220.3L379.9 220.3L377.9 220.7L375.9 221.3L373.9 221.9L371.9 222.4L369.9 222.8L367.9 223.3L365.9 223.7L363.9 224.0L361.9 224.3L359.9 224.5L357.9 224.7L355.9 224.8L353.9 224.7L351.9 224.3L349.9 223.8L347.9 223.3L345.9 222.8L343.9 222.2L341.9 221.6L339.9 221.0L337.9 220.3L335.9 219.5L333.9 218.7L331.9 217.9L329.9 217.1L327.9 216.3L325.9 215.4L323.9 214.6L321.9 214.1L319.9 213.9L317.9 214.2L315.9 214.9L313.9 215.7L311.9 216.6L309.9 217.4L307.9 218.1L305.9 218.9L303.9 219.7L301.9 220.6L299.9 221.5L297.9 222.5L295.9 223.5L293.9 224.6L291.9 225.6L289.9 226.7L287.9 227.6L285.9 228.2L283.9 228.5L281.9 228.7L279.9 229.0L277.9 229.4L275.9 229.8L273.9 230.1L271.9 230.4L269.9 230.4L267.9 230.4L265.9 230.3L263.9 230.2L261.9 230.1L259.9 230.0L257.9 229.8L255.9 229.7L253.9 229.5L251.9 229.2L249.9 229.0L247.9 228.8L245.9 228.7L243.9 228.7L241.9 228.8L239.9 228.9L237.9 229.0L235.9 229.1L233.9 229.3L231.9 229.5L229.9 230.0L227.9 230.4L225.9 230.9L223.9 231.4L221.9 231.9L219.9 232.3L217.9 232.4L215.9 232.0L213.9 231.5L211.9 231.0L209.9 230.4L207.9 229.8L205.9 229.1L203.9 228.3L201.9 227.4L199.9 226.4L197.9 225.3L195.9 224.3L193.9 223.4L191.9 222.5L189.9 221.7L187.9 221.0L185.9 220.3L183.9 219.6L181.9 219.1L179.9 218.9L177.9 218.9L175.9 218.9L173.9 218.9L171.9 219.1L169.9 219.4L167.9 219.7L165.9 220.2L163.9 221.1L161.9 222.2L159.9 223.4L157.9 224.6L155.9 225.6L153.9 226.5L151.9 227.3L149.9 228.1L147.9 228.8L145.9 229.4L143.9 229.8L141.9 230.1L139.9 230.4L137.9 230.6L135.9 230.7L133.9 230.6L131.9 230.0L129.9 229.2L127.9 228.3L125.9 227.4L123.9 226.5L121.9 225.8L119.9 225.0L117.9 224.2L115.9 223.5L113.9 222.7L111.9 222.0L109.9 221.3L107.9 220.6L105.9 219.8L103.9 219.1L101.9 218.5L99.9 218.2L97.9 218.1L95.9 218.2L93.9 218.3L91.9 218.5L89.9 218.7L87.9 219.0L85.9 219.4L83.9 220.1L81.9 221.0L79.9 222.1L77.9 223.3L75.9 224.7L73.9 226.7L71.9 229.3L69.9 232.4L67.9 235.7Z" fill="#999" fill-opacity="0.39"/>
<path d="M67.9 212.2L69.9 211.0L71.9 209.9L73.9 209.0L75.9 208.2L77.9 207.8L79.9 207.3L81.9 206.9L83.9 206.6L85.9 206.4L87.9 206.3L89.9 206.3L91.9 206.4L93.9 206.5L95.9 206.6L97.9 206.7L99.9 206.9L101.9 207.3L103.9 207.7L105.9 208.3L107.9 208.9L109.9 209.5L111.9 210.2L113.9 211.0L115.9 211.9L117.9 212.9L119.9 213.8L121.9 214.8L123.9 215.6L125.9 216.6L127.9 217.6L129.9 218.6L131.9 219.4L133.9 219.9L135.9 220.1L137.9 220.0L139.9 219.7L141.9 219.3L143.9 218.9L145.9 218.4L147.9 217.8L149.9 217.1L151.9 216.3L153.9 215.5L155.9 214.6L157.9 213.6L159.9 212.4L161.9 211.1L163.9 209.9L165.9 208.9L167.9 208.3L169.9 207.7L171.9 207.2L173.9 206.9L175.9 206.8L177.9 206.8L179.9 206.8L181.9 207.0L183.9 207.5L185.9 208.1L187.9 208.8L189.9 209.5L191.9 210.4L193.9 211.3L195.9 212.2L197.9 213.1L199.9 214.0L201.9 214.9L203.9 215.7L205.9 216.5L207.9 217.3L209.9 218.0L211.9 218.6L213.9 219.2L215.9 219.7L217.9 220.1L219.9 220.0L221.9 219.7L223.9 219.2L225.9 218.8L227.9 218.4L229.9 217.9L231.9 217.6L233.9 217.3L235.9 217.1L237.9 216.9L239.9 216.8L241.9 216.7L243.9 216.6L245.9 216.6L247.9 216.7L249.9 216.8L251.9 216.9L253.9 217.1L255.9 217.2L257.9 217.3L259.9 217.4L261.9 217.5L263.9 217.6L265.9 217.6L267.9 217.7L269.9 217.8L271.9 217.8L273.9 217.9L275.9 218.0L277.9 218.1L279.9 218.1L281.9 218.0L283.9 217.8L285.9 217.5L287.9 216.9L289.9 215.9L291.9 214.7L293.9 213.6L295.9 212.6L297.9 211.6L299.9 210.6L301.9 209.7L303.9 208.8L305.9 208.0L307.9 207.2L309.9 206.4L311.9 205.6L313.9 204.6L315.9 203.7L317.9 203.0L319.9 202.7L321.9 202.9L323.9 203.5L325.9 204.3L327.9 205.3L329.9 206.1L331.9 206.8L333.9 207.4L335.9 208.0L337.9 208.6L339.9 209.2L341.9 209.9L343.9 210.5L345.9 211.1L347.9 211.6L349.9 212.3L351.9 213.0L353.9 213.5L355.9 213.6L357.9 213.4L359.9 213.1L361.9 212.6L363.9 212.2L365.9 211.7L367.9 211.2L369.9 210.6L371.9 210.1L373.9 209.6L375.9 209.0L377.9 208.5L379.9 208.1L381.9 207.9L383.9 207.7L385.9 207.6L387.9 207.5L389.9 207.5L391.9 207.9L393.9 208.6L395.9 209.5L397.9 210.3L399.9 211.1L401.9 211.9L403.9 212.8L405.9 213.6L407.9 214.3L409.9 215.0L411.9 215.6L413.9 216.1L415.9 216.5L417.9 216.9L419.9 217.3L421.9 217.5L423.9 217.6L425.9 217.6L427.9 217.5L429.9 217.4L431.9 217.3L433.9 217.2L435.9 217.0L437.9 216.9L439.9 216.8L441.9 216.8L443.9 216.9L445.9 216.9L447.9 217.1L449.9 217.2L451.9 217.3L453.9 217.4L455.9 217.5L457.9 217.6L459.9 217.7L461.9 217.8L463.9 217.9L465.9 218.0L467.9 218.1L469.9 218.2L471.9 218.3L473.9 218.4L475.9 218.5L477.9 218.6L479.9 218.6L481.9 218.7L483.9 218.8L485.9 218.8L487.9 218.9L489.9 218.9L491.9 218.9L493.9 218.8L495.9 218.7L497.9 218.6L499.9 218.4L501.9 218.2L503.9 218.0L505.9 217.7L507.9 217.5L509.9 217.3L511.9 217.1L513.9 217.0L515.9 216.8L517.9 216.7L519.9 216.6L521.9 216.6L523.9 216.6L525.9 216.7L527.9 216.9L529.9 217.0L531.9 217.2L533.9 217.3L535.9 217.4L537.9 217.6L539.9 217.7L541.9 217.8L543.9 217.9L545.9 218.0L547.9 218.2L549.9 218.3L551.9 218.4L553.9 218.5L555.9 218.7L557.9 218.8L559.9 219.0L561.9 219.2L563.9 219.5L565.9 219.8L567.9 220.1L569.9 220.5L571.9 220.9L573.9 221.3L575.9 221.8L577.9 222.3L579.9 222.9L581.9 223.5L583.9 224.3L585.9 225.1L587.9 226.0L589.9 227.0L591.9 228.0L593.9 229.1L595.9 230.2L597.9 231.4L599.9 232.7L601.9 234.0L603.9 235.3L607.4 237.7" stroke="#ec1c24" stroke-width="1.55" fill="none" stroke-linejoin="round"/>
</g>
<rect x="62.3" y="1.5" width="551.2" height="273.2" fill="none" stroke="#c4c4c4" stroke-width="1"/>
<path d="M59.7 241.4H62.3M59.7 185.6H62.3M59.7 129.8H62.3M59.7 74.1H62.3M59.7 18.3H62.3" stroke="#444" stroke-width="0.9" fill="none"/>
<text x="58.4" y="245.8" font-size="12.2" font-weight="bold" fill="#666666" text-anchor="end">0</text>
<text x="58.4" y="190.0" font-size="12.2" font-weight="bold" fill="#666666" text-anchor="end">100</text>
<text x="58.4" y="134.2" font-size="12.2" font-weight="bold" fill="#666666" text-anchor="end">200</text>
<text x="58.4" y="78.4" font-size="12.2" font-weight="bold" fill="#666666" text-anchor="end">300</text>
<text x="58.4" y="22.6" font-size="12.2" font-weight="bold" fill="#666666" text-anchor="end">400</text>
<path d="M81.6 274.7v2.6M112.2 274.7v2.6M142.9 274.7v2.6M173.5 274.7v2.6M204.2 274.7v2.6M234.8 274.7v2.6M265.5 274.7v2.6M296.1 274.7v2.6M326.8 274.7v2.6M357.4 274.7v2.6M388.1 274.7v2.6M418.8 274.7v2.6M449.4 274.7v2.6M480 274.7v2.6M510.7 274.7v2.6M541.4 274.7v2.6M572 274.7v2.6M602.6 274.7v2.6" stroke="#444" stroke-width="0.9" fill="none"/>
<text x="612.6" y="27" font-size="25" text-anchor="end" fill="#111">a)</text>
<text transform="translate(16.2 143.7) rotate(-90)" font-family="'Liberation Serif', serif" font-weight="bold" font-size="18.9" text-anchor="middle" fill="#000">Rainfall (mm)</text>
<defs><linearGradient id="ga" x1="0" y1="0" x2="0" y2="1"><stop offset="0.0000" stop-color="#ff0000"/><stop offset="0.0417" stop-color="#f84200"/><stop offset="0.0833" stop-color="#f15f00"/><stop offset="0.1250" stop-color="#e97500"/><stop offset="0.1667" stop-color="#e08800"/><stop offset="0.2083" stop-color="#d69900"/><stop offset="0.2500" stop-color="#caa900"/><stop offset="0.2917" stop-color="#bdb800"/><stop offset="0.3333" stop-color="#aec600"/><stop offset="0.3750" stop-color="#9cd400"/><stop offset="0.4167" stop-color="#86e100"/><stop offset="0.4583" stop-color="#68ee00"/><stop offset="0.5000" stop-color="#33fb00"/><stop offset="0.5417" stop-color="#3df334"/><stop offset="0.5833" stop-color="#5ae153"/><stop offset="0.6250" stop-color="#6bd06a"/><stop offset="0.6667" stop-color="#75bf7d"/><stop offset="0.7083" stop-color="#7bad8f"/><stop offset="0.7500" stop-color="#7d9c9f"/><stop offset="0.7917" stop-color="#7d8aae"/><stop offset="0.8333" stop-color="#7978bd"/><stop offset="0.8750" stop-color="#7265cc"/><stop offset="0.9167" stop-color="#6652da"/><stop offset="0.9583" stop-color="#553ce8"/><stop offset="1.0000" stop-color="#3621f6"/></linearGradient></defs>
<rect x="623.9" y="107.3" width="18.3" height="90.8" fill="url(#ga)"/>
<path d="M623.9 109.8h3.6M642.1999999999999 109.8h-3.6M623.9 131.9h3.6M642.1999999999999 131.9h-3.6M623.9 154h3.6M642.1999999999999 154h-3.6M623.9 176.1h3.6M642.1999999999999 176.1h-3.6" stroke="#fff" stroke-opacity="0.75" stroke-width="0.5" fill="none"/>
<text x="648.2" y="113.5" font-size="10.2" fill="#1a1a1a">400</text>
<text x="648.2" y="135.6" font-size="10.2" fill="#1a1a1a">300</text>
<text x="648.2" y="157.7" font-size="10.2" fill="#1a1a1a">200</text>
<text x="648.2" y="179.8" font-size="10.2" fill="#1a1a1a">100</text>
<text x="648.2" y="201.8" font-size="10.2" fill="#1a1a1a">0</text>
<rect x="62.3" y="280.3" width="551.2" height="274.9" fill="#fff"/>
<path d="M66.5 280.3V555.2M96.6 280.3V555.2M126.7 280.3V555.2M156.8 280.3V555.2M186.9 280.3V555.2M217.1 280.3V555.2M247.2 280.3V555.2M277.3 280.3V555.2M307.4 280.3V555.2M337.5 280.3V555.2M367.6 280.3V555.2M397.7 280.3V555.2M427.8 280.3V555.2M457.9 280.3V555.2M488 280.3V555.2M518.1 280.3V555.2M548.3 280.3V555.2M578.4 280.3V555.2M608.5 280.3V555.2M62.3 504.6H613.5M62.3 423.8H613.5M62.3 343.1H613.5" stroke="#ebebeb" stroke-width="0.4" fill="none"/>
<path d="M81.6 280.3V555.2M111.7 280.3V555.2M141.8 280.3V555.2M171.9 280.3V555.2M202 280.3V555.2M232.2 280.3V555.2M262.3 280.3V555.2M292.4 280.3V555.2M322.5 280.3V555.2M352.6 280.3V555.2M382.7 280.3V555.2M412.8 280.3V555.2M442.9 280.3V555.2M473 280.3V555.2M503.1 280.3V555.2M533.2 280.3V555.2M563.4 280.3V555.2M593.5 280.3V555.2M62.3 545H613.5M62.3 464.2H613.5M62.3 383.5H613.5M62.3 302.7H613.5" stroke="#ebebeb" stroke-width="0.75" fill="none"/>
<rect x="409.8" y="280.3" width="193.0" height="274.9" fill="#7f7f7f" fill-opacity="0.15"/>
<clipPath id="cb"><rect x="62.3" y="280.3" width="551.2" height="274.9"/></clipPath><g clip-path="url(#cb)">
<g fill-opacity="0.9"><circle cx="66.7" cy="506.5" r="3.15" fill="#766fc4"/><circle cx="68.4" cy="515.7" r="3.15" fill="#6e5fd1"/><circle cx="69.7" cy="486.3" r="3.15" fill="#7d92a7"/><circle cx="70.9" cy="505.6" r="3.15" fill="#7771c3"/><circle cx="72.1" cy="509.0" r="3.15" fill="#746bc7"/><circle cx="73.8" cy="446.6" r="3.15" fill="#67d565"/><circle cx="75.1" cy="511.5" r="3.15" fill="#7266cb"/><circle cx="76.5" cy="513.2" r="3.15" fill="#7163cd"/><circle cx="77.6" cy="507.3" r="3.15" fill="#756ec5"/><circle cx="79.0" cy="515.2" r="3.15" fill="#6f60d0"/><circle cx="80.1" cy="530.0" r="3.15" fill="#5a43e4"/><circle cx="81.5" cy="535.0" r="3.15" fill="#5037eb"/><circle cx="82.8" cy="533.3" r="3.15" fill="#543be9"/><circle cx="84.0" cy="530.0" r="3.15" fill="#5a43e4"/><circle cx="85.2" cy="505.6" r="3.15" fill="#7771c3"/><circle cx="86.4" cy="418.7" r="3.15" fill="#2dfc00"/><circle cx="87.2" cy="465.4" r="3.15" fill="#79b587"/><circle cx="88.5" cy="495.6" r="3.15" fill="#7b82b5"/><circle cx="90.2" cy="458.3" r="3.15" fill="#74c17b"/><circle cx="91.6" cy="508.2" r="3.15" fill="#756cc6"/><circle cx="92.7" cy="503.1" r="3.15" fill="#7875bf"/><circle cx="94.1" cy="497.3" r="3.15" fill="#7b7fb7"/><circle cx="95.4" cy="525.8" r="3.15" fill="#624bde"/><circle cx="96.8" cy="530.0" r="3.15" fill="#5a43e4"/><circle cx="98.1" cy="529.2" r="3.15" fill="#5c44e3"/><circle cx="99.4" cy="527.5" r="3.15" fill="#5f48e1"/><circle cx="100.6" cy="520.8" r="3.15" fill="#6955d8"/><circle cx="102.0" cy="514.0" r="3.15" fill="#7062ce"/><circle cx="103.8" cy="292.9" r="3.15" fill="#ff0600"/><circle cx="105.0" cy="406.4" r="3.15" fill="#6ced00"/><circle cx="106.2" cy="464.5" r="3.15" fill="#78b785"/><circle cx="107.5" cy="472.4" r="3.15" fill="#7caa92"/><circle cx="108.7" cy="505.6" r="3.15" fill="#7771c3"/><circle cx="110.0" cy="506.5" r="3.15" fill="#766fc4"/><circle cx="111.2" cy="514.0" r="3.15" fill="#7062ce"/><circle cx="112.4" cy="521.6" r="3.15" fill="#6753d9"/><circle cx="113.7" cy="532.5" r="3.15" fill="#563de8"/><circle cx="115.1" cy="532.5" r="3.15" fill="#563de8"/><circle cx="116.2" cy="524.1" r="3.15" fill="#644fdc"/><circle cx="117.6" cy="517.4" r="3.15" fill="#6c5bd3"/><circle cx="118.8" cy="502.3" r="3.15" fill="#7977be"/><circle cx="120.1" cy="495.6" r="3.15" fill="#7b82b5"/><circle cx="121.3" cy="502.0" r="3.15" fill="#7977be"/><circle cx="122.4" cy="517.4" r="3.15" fill="#6c5bd3"/><circle cx="123.8" cy="519.1" r="3.15" fill="#6b58d5"/><circle cx="125.0" cy="525.0" r="3.15" fill="#634ddd"/><circle cx="126.3" cy="533.3" r="3.15" fill="#543be9"/><circle cx="127.7" cy="534.2" r="3.15" fill="#5239ea"/><circle cx="129.0" cy="530.8" r="3.15" fill="#5941e5"/><circle cx="130.2" cy="526.6" r="3.15" fill="#604ae0"/><circle cx="131.5" cy="525.8" r="3.15" fill="#624bde"/><circle cx="132.9" cy="522.4" r="3.15" fill="#6652da"/><circle cx="134.0" cy="520.8" r="3.15" fill="#6955d8"/><circle cx="135.2" cy="519.1" r="3.15" fill="#6b58d5"/><circle cx="136.5" cy="516.9" r="3.15" fill="#6d5cd2"/><circle cx="137.7" cy="525.0" r="3.15" fill="#634ddd"/><circle cx="139.1" cy="530.8" r="3.15" fill="#5941e5"/><circle cx="140.4" cy="534.2" r="3.15" fill="#5239ea"/><circle cx="141.8" cy="535.9" r="3.15" fill="#4e35ec"/><circle cx="143.1" cy="535.9" r="3.15" fill="#4e35ec"/><circle cx="144.4" cy="534.2" r="3.15" fill="#5239ea"/><circle cx="145.8" cy="530.8" r="3.15" fill="#5941e5"/><circle cx="147.1" cy="525.8" r="3.15" fill="#624bde"/><circle cx="148.5" cy="525.0" r="3.15" fill="#634ddd"/><circle cx="149.8" cy="529.2" r="3.15" fill="#5c44e3"/><circle cx="151.2" cy="495.6" r="3.15" fill="#7b82b5"/><circle cx="152.3" cy="527.5" r="3.15" fill="#5f48e1"/><circle cx="153.7" cy="525.8" r="3.15" fill="#624bde"/><circle cx="155.0" cy="535.0" r="3.15" fill="#5037eb"/><circle cx="156.4" cy="538.4" r="3.15" fill="#472ff0"/><circle cx="157.7" cy="539.2" r="3.15" fill="#452df1"/><circle cx="159.0" cy="536.7" r="3.15" fill="#4c33ed"/><circle cx="160.4" cy="533.3" r="3.15" fill="#543be9"/><circle cx="161.7" cy="530.0" r="3.15" fill="#5a43e4"/><circle cx="163.1" cy="514.0" r="3.15" fill="#7062ce"/><circle cx="164.1" cy="464.5" r="3.15" fill="#78b785"/><circle cx="165.4" cy="487.2" r="3.15" fill="#7d91a8"/><circle cx="166.6" cy="505.6" r="3.15" fill="#7771c3"/><circle cx="167.9" cy="513.2" r="3.15" fill="#7163cd"/><circle cx="169.1" cy="515.7" r="3.15" fill="#6e5fd1"/><circle cx="170.5" cy="526.6" r="3.15" fill="#604ae0"/><circle cx="171.8" cy="530.8" r="3.15" fill="#5941e5"/><circle cx="172.7" cy="532.5" r="3.15" fill="#563de8"/><circle cx="174.0" cy="530.8" r="3.15" fill="#5941e5"/><circle cx="175.4" cy="522.4" r="3.15" fill="#6652da"/><circle cx="176.7" cy="392.1" r="3.15" fill="#91db00"/><circle cx="177.9" cy="394.2" r="3.15" fill="#8ddd00"/><circle cx="179.2" cy="473.8" r="3.15" fill="#7ca794"/><circle cx="180.6" cy="476.3" r="3.15" fill="#7da398"/><circle cx="181.8" cy="492.2" r="3.15" fill="#7c88b0"/><circle cx="183.1" cy="508.2" r="3.15" fill="#756cc6"/><circle cx="184.3" cy="505.6" r="3.15" fill="#7771c3"/><circle cx="185.6" cy="530.0" r="3.15" fill="#5a43e4"/><circle cx="186.8" cy="532.5" r="3.15" fill="#563de8"/><circle cx="188.1" cy="535.0" r="3.15" fill="#5037eb"/><circle cx="189.5" cy="529.2" r="3.15" fill="#5c44e3"/><circle cx="190.6" cy="525.0" r="3.15" fill="#634ddd"/><circle cx="191.8" cy="491.4" r="3.15" fill="#7d89af"/><circle cx="193.2" cy="391.3" r="3.15" fill="#93da00"/><circle cx="194.3" cy="459.1" r="3.15" fill="#74c07c"/><circle cx="195.7" cy="492.2" r="3.15" fill="#7c88b0"/><circle cx="196.9" cy="491.4" r="3.15" fill="#7d89af"/><circle cx="198.0" cy="512.4" r="3.15" fill="#7165cc"/><circle cx="199.4" cy="519.1" r="3.15" fill="#6b58d5"/><circle cx="200.6" cy="525.8" r="3.15" fill="#624bde"/><circle cx="201.9" cy="535.0" r="3.15" fill="#5037eb"/><circle cx="203.2" cy="534.2" r="3.15" fill="#5239ea"/><circle cx="204.6" cy="530.8" r="3.15" fill="#5941e5"/><circle cx="205.6" cy="515.7" r="3.15" fill="#6e5fd1"/><circle cx="206.8" cy="506.5" r="3.15" fill="#766fc4"/><circle cx="208.1" cy="480.5" r="3.15" fill="#7d9c9e"/><circle cx="209.4" cy="439.3" r="3.15" fill="#5be155"/><circle cx="210.8" cy="497.3" r="3.15" fill="#7b7fb7"/><circle cx="212.0" cy="495.6" r="3.15" fill="#7b82b5"/><circle cx="213.3" cy="511.5" r="3.15" fill="#7266cb"/><circle cx="214.7" cy="522.4" r="3.15" fill="#6652da"/><circle cx="216.0" cy="533.3" r="3.15" fill="#543be9"/><circle cx="217.3" cy="535.9" r="3.15" fill="#4e35ec"/><circle cx="218.7" cy="535.0" r="3.15" fill="#5037eb"/><circle cx="220.0" cy="527.5" r="3.15" fill="#5f48e1"/><circle cx="221.4" cy="522.4" r="3.15" fill="#6652da"/><circle cx="222.5" cy="521.1" r="3.15" fill="#6854d8"/><circle cx="223.4" cy="487.2" r="3.15" fill="#7d91a8"/><circle cx="224.6" cy="427.3" r="3.15" fill="#38f52f"/><circle cx="225.9" cy="480.5" r="3.15" fill="#7d9c9e"/><circle cx="227.1" cy="490.5" r="3.15" fill="#7d8bad"/><circle cx="228.4" cy="502.3" r="3.15" fill="#7977be"/><circle cx="229.6" cy="502.3" r="3.15" fill="#7977be"/><circle cx="230.9" cy="514.0" r="3.15" fill="#7062ce"/><circle cx="232.1" cy="530.8" r="3.15" fill="#5941e5"/><circle cx="233.5" cy="535.0" r="3.15" fill="#5037eb"/><circle cx="234.6" cy="532.5" r="3.15" fill="#563de8"/><circle cx="236.0" cy="525.8" r="3.15" fill="#624bde"/><circle cx="237.1" cy="522.4" r="3.15" fill="#6652da"/><circle cx="238.5" cy="504.8" r="3.15" fill="#7772c2"/><circle cx="239.8" cy="510.7" r="3.15" fill="#7368ca"/><circle cx="241.2" cy="508.2" r="3.15" fill="#756cc6"/><circle cx="242.5" cy="519.9" r="3.15" fill="#6a57d6"/><circle cx="243.9" cy="525.8" r="3.15" fill="#624bde"/><circle cx="245.0" cy="532.5" r="3.15" fill="#563de8"/><circle cx="246.2" cy="540.1" r="3.15" fill="#422bf2"/><circle cx="247.6" cy="540.9" r="3.15" fill="#4028f3"/><circle cx="248.9" cy="537.5" r="3.15" fill="#4a31ee"/><circle cx="250.2" cy="535.0" r="3.15" fill="#5037eb"/><circle cx="251.4" cy="522.4" r="3.15" fill="#6652da"/><circle cx="252.3" cy="514.0" r="3.15" fill="#7062ce"/><circle cx="253.4" cy="372.3" r="3.15" fill="#b4c100"/><circle cx="254.8" cy="479.6" r="3.15" fill="#7d9d9d"/><circle cx="255.9" cy="451.9" r="3.15" fill="#6ecc6f"/><circle cx="257.1" cy="445.7" r="3.15" fill="#66d663"/><circle cx="258.5" cy="451.9" r="3.15" fill="#6ecc6f"/><circle cx="259.8" cy="488.0" r="3.15" fill="#7d8faa"/><circle cx="261.2" cy="498.1" r="3.15" fill="#7b7eb8"/><circle cx="262.3" cy="514.0" r="3.15" fill="#7062ce"/><circle cx="263.7" cy="528.3" r="3.15" fill="#5d46e2"/><circle cx="265.0" cy="524.1" r="3.15" fill="#644fdc"/><circle cx="266.2" cy="522.4" r="3.15" fill="#6652da"/><circle cx="267.5" cy="517.4" r="3.15" fill="#6c5bd3"/><circle cx="268.9" cy="517.4" r="3.15" fill="#6c5bd3"/><circle cx="270.2" cy="529.2" r="3.15" fill="#5c44e3"/><circle cx="271.6" cy="530.8" r="3.15" fill="#5941e5"/><circle cx="272.9" cy="537.5" r="3.15" fill="#4a31ee"/><circle cx="274.2" cy="540.9" r="3.15" fill="#4028f3"/><circle cx="275.6" cy="542.6" r="3.15" fill="#3a23f5"/><circle cx="276.9" cy="543.4" r="3.15" fill="#3621f6"/><circle cx="278.3" cy="541.7" r="3.15" fill="#3d26f4"/><circle cx="279.6" cy="540.1" r="3.15" fill="#422bf2"/><circle cx="281.0" cy="539.2" r="3.15" fill="#452df1"/><circle cx="282.1" cy="525.0" r="3.15" fill="#634ddd"/><circle cx="282.5" cy="518.2" r="3.15" fill="#6c5ad4"/><circle cx="283.9" cy="510.7" r="3.15" fill="#7368ca"/><circle cx="285.0" cy="515.7" r="3.15" fill="#6e5fd1"/><circle cx="286.2" cy="511.5" r="3.15" fill="#7266cb"/><circle cx="287.4" cy="436.5" r="3.15" fill="#55e54d"/><circle cx="288.7" cy="509.0" r="3.15" fill="#746bc7"/><circle cx="290.1" cy="509.8" r="3.15" fill="#7469c9"/><circle cx="291.1" cy="524.1" r="3.15" fill="#644fdc"/><circle cx="292.4" cy="535.9" r="3.15" fill="#4e35ec"/><circle cx="293.8" cy="534.2" r="3.15" fill="#5239ea"/><circle cx="295.1" cy="530.8" r="3.15" fill="#5941e5"/><circle cx="296.1" cy="527.5" r="3.15" fill="#5f48e1"/><circle cx="297.5" cy="532.5" r="3.15" fill="#563de8"/><circle cx="298.6" cy="402.9" r="3.15" fill="#77e800"/><circle cx="299.8" cy="426.8" r="3.15" fill="#35f62d"/><circle cx="301.2" cy="492.2" r="3.15" fill="#7c88b0"/><circle cx="302.5" cy="436.8" r="3.15" fill="#56e54e"/><circle cx="303.5" cy="505.6" r="3.15" fill="#7771c3"/><circle cx="304.8" cy="510.7" r="3.15" fill="#7368ca"/><circle cx="306.0" cy="510.7" r="3.15" fill="#7368ca"/><circle cx="307.4" cy="524.1" r="3.15" fill="#644fdc"/><circle cx="308.5" cy="533.3" r="3.15" fill="#543be9"/><circle cx="309.9" cy="532.5" r="3.15" fill="#563de8"/><circle cx="311.2" cy="525.8" r="3.15" fill="#624bde"/><circle cx="312.1" cy="476.3" r="3.15" fill="#7da398"/><circle cx="313.2" cy="463.3" r="3.15" fill="#77b983"/><circle cx="314.7" cy="337.1" r="3.15" fill="#dd8c00"/><circle cx="315.9" cy="423.1" r="3.15" fill="#1dfc17"/><circle cx="317.3" cy="482.7" r="3.15" fill="#7d98a2"/><circle cx="318.6" cy="507.3" r="3.15" fill="#756ec5"/><circle cx="320.0" cy="520.8" r="3.15" fill="#6955d8"/><circle cx="321.1" cy="512.4" r="3.15" fill="#7165cc"/><circle cx="322.3" cy="532.5" r="3.15" fill="#563de8"/><circle cx="323.6" cy="535.0" r="3.15" fill="#5037eb"/><circle cx="325.0" cy="511.5" r="3.15" fill="#7266cb"/><circle cx="326.2" cy="519.1" r="3.15" fill="#6b58d5"/><circle cx="327.5" cy="489.7" r="3.15" fill="#7d8cac"/><circle cx="328.7" cy="450.3" r="3.15" fill="#6cce6c"/><circle cx="329.9" cy="472.9" r="3.15" fill="#7ca993"/><circle cx="331.2" cy="319.4" r="3.15" fill="#ec6c00"/><circle cx="332.5" cy="457.0" r="3.15" fill="#73c378"/><circle cx="333.7" cy="470.4" r="3.15" fill="#7bad8f"/><circle cx="334.9" cy="486.0" r="3.15" fill="#7d93a7"/><circle cx="336.2" cy="493.1" r="3.15" fill="#7c87b1"/><circle cx="337.4" cy="512.4" r="3.15" fill="#7165cc"/><circle cx="338.8" cy="530.0" r="3.15" fill="#5a43e4"/><circle cx="340.1" cy="526.6" r="3.15" fill="#604ae0"/><circle cx="341.4" cy="524.1" r="3.15" fill="#644fdc"/><circle cx="342.6" cy="522.4" r="3.15" fill="#6652da"/><circle cx="343.8" cy="483.0" r="3.15" fill="#7d98a2"/><circle cx="345.1" cy="483.8" r="3.15" fill="#7d96a3"/><circle cx="346.3" cy="515.7" r="3.15" fill="#6e5fd1"/><circle cx="347.7" cy="516.6" r="3.15" fill="#6d5dd2"/><circle cx="349.0" cy="519.1" r="3.15" fill="#6b58d5"/><circle cx="350.2" cy="520.8" r="3.15" fill="#6955d8"/><circle cx="351.5" cy="528.3" r="3.15" fill="#5d46e2"/><circle cx="352.9" cy="532.5" r="3.15" fill="#563de8"/><circle cx="354.2" cy="534.2" r="3.15" fill="#5239ea"/><circle cx="355.5" cy="530.8" r="3.15" fill="#5941e5"/><circle cx="356.5" cy="501.5" r="3.15" fill="#7978bd"/><circle cx="357.7" cy="513.2" r="3.15" fill="#7163cd"/><circle cx="359.1" cy="502.3" r="3.15" fill="#7977be"/><circle cx="360.4" cy="478.0" r="3.15" fill="#7da09b"/><circle cx="361.8" cy="490.2" r="3.15" fill="#7d8bad"/><circle cx="363.1" cy="501.5" r="3.15" fill="#7978bd"/><circle cx="364.4" cy="510.7" r="3.15" fill="#7368ca"/><circle cx="365.8" cy="518.2" r="3.15" fill="#6c5ad4"/><circle cx="367.1" cy="526.6" r="3.15" fill="#604ae0"/><circle cx="368.5" cy="534.2" r="3.15" fill="#5239ea"/><circle cx="369.8" cy="530.8" r="3.15" fill="#5941e5"/><circle cx="371.2" cy="525.8" r="3.15" fill="#624bde"/><circle cx="372.3" cy="524.1" r="3.15" fill="#644fdc"/><circle cx="373.2" cy="496.4" r="3.15" fill="#7b81b6"/><circle cx="374.3" cy="409.8" r="3.15" fill="#60f100"/><circle cx="375.7" cy="417.3" r="3.15" fill="#39fa00"/><circle cx="376.7" cy="398.5" r="3.15" fill="#83e300"/><circle cx="378.0" cy="473.8" r="3.15" fill="#7ca794"/><circle cx="379.4" cy="505.6" r="3.15" fill="#7771c3"/><circle cx="380.7" cy="500.6" r="3.15" fill="#797abc"/><circle cx="381.9" cy="498.9" r="3.15" fill="#7a7cb9"/><circle cx="383.2" cy="515.7" r="3.15" fill="#6e5fd1"/><circle cx="384.4" cy="530.0" r="3.15" fill="#5a43e4"/><circle cx="385.8" cy="525.0" r="3.15" fill="#634ddd"/><circle cx="386.9" cy="516.6" r="3.15" fill="#6d5dd2"/><circle cx="388.1" cy="507.3" r="3.15" fill="#756ec5"/><circle cx="389.1" cy="439.8" r="3.15" fill="#5ce056"/><circle cx="390.5" cy="381.9" r="3.15" fill="#a5cd00"/><circle cx="391.6" cy="435.1" r="3.15" fill="#52e84a"/><circle cx="392.5" cy="473.4" r="3.15" fill="#7ca894"/><circle cx="393.9" cy="477.4" r="3.15" fill="#7da19a"/><circle cx="395.0" cy="493.9" r="3.15" fill="#7c85b2"/><circle cx="396.4" cy="501.5" r="3.15" fill="#7978bd"/><circle cx="397.7" cy="516.6" r="3.15" fill="#6d5dd2"/><circle cx="399.1" cy="519.9" r="3.15" fill="#6a57d6"/><circle cx="400.4" cy="515.7" r="3.15" fill="#6e5fd1"/><circle cx="401.8" cy="511.5" r="3.15" fill="#7266cb"/><circle cx="403.1" cy="518.2" r="3.15" fill="#6c5ad4"/><circle cx="404.3" cy="516.6" r="3.15" fill="#6d5dd2"/><circle cx="405.4" cy="490.2" r="3.15" fill="#7d8bad"/><circle cx="406.8" cy="506.5" r="3.15" fill="#766fc4"/><circle cx="408.1" cy="517.4" r="3.15" fill="#6c5bd3"/><circle cx="409.5" cy="518.2" r="3.15" fill="#6c5ad4"/><circle cx="410.8" cy="520.8" r="3.15" fill="#6955d8"/><circle cx="412.0" cy="528.3" r="3.15" fill="#5d46e2"/><circle cx="413.3" cy="535.9" r="3.15" fill="#4e35ec"/><circle cx="414.7" cy="537.5" r="3.15" fill="#4a31ee"/><circle cx="416.0" cy="535.0" r="3.15" fill="#5037eb"/><circle cx="416.9" cy="522.4" r="3.15" fill="#6652da"/><circle cx="418.2" cy="405.1" r="3.15" fill="#70eb00"/><circle cx="419.4" cy="460.7" r="3.15" fill="#76bd7f"/><circle cx="420.6" cy="475.8" r="3.15" fill="#7da497"/><circle cx="421.9" cy="440.5" r="3.15" fill="#5ddf57"/><circle cx="423.2" cy="488.9" r="3.15" fill="#7d8eab"/><circle cx="424.4" cy="511.5" r="3.15" fill="#7266cb"/><circle cx="425.8" cy="518.6" r="3.15" fill="#6b59d5"/><circle cx="426.9" cy="530.0" r="3.15" fill="#5a43e4"/><circle cx="428.3" cy="532.5" r="3.15" fill="#563de8"/><circle cx="429.6" cy="534.2" r="3.15" fill="#5239ea"/><circle cx="431.0" cy="535.0" r="3.15" fill="#5037eb"/><circle cx="432.3" cy="532.5" r="3.15" fill="#563de8"/><circle cx="433.3" cy="506.5" r="3.15" fill="#766fc4"/><circle cx="434.5" cy="494.7" r="3.15" fill="#7c84b3"/><circle cx="435.7" cy="477.6" r="3.15" fill="#7da19a"/><circle cx="437.0" cy="463.3" r="3.15" fill="#77b983"/><circle cx="438.3" cy="489.7" r="3.15" fill="#7d8cac"/><circle cx="439.5" cy="507.3" r="3.15" fill="#756ec5"/><circle cx="440.9" cy="514.0" r="3.15" fill="#7062ce"/><circle cx="442.0" cy="523.3" r="3.15" fill="#6550db"/><circle cx="443.4" cy="529.2" r="3.15" fill="#5c44e3"/><circle cx="444.7" cy="535.0" r="3.15" fill="#5037eb"/><circle cx="446.1" cy="535.9" r="3.15" fill="#4e35ec"/><circle cx="447.4" cy="530.8" r="3.15" fill="#5941e5"/><circle cx="448.8" cy="515.7" r="3.15" fill="#6e5fd1"/><circle cx="449.9" cy="509.8" r="3.15" fill="#7469c9"/><circle cx="451.3" cy="514.0" r="3.15" fill="#7062ce"/><circle cx="452.6" cy="519.1" r="3.15" fill="#6b58d5"/><circle cx="454.0" cy="521.6" r="3.15" fill="#6753d9"/><circle cx="455.3" cy="525.8" r="3.15" fill="#624bde"/><circle cx="456.6" cy="530.0" r="3.15" fill="#5a43e4"/><circle cx="458.0" cy="532.5" r="3.15" fill="#563de8"/><circle cx="459.3" cy="535.0" r="3.15" fill="#5037eb"/><circle cx="460.7" cy="533.3" r="3.15" fill="#543be9"/><circle cx="462.0" cy="530.8" r="3.15" fill="#5941e5"/><circle cx="463.2" cy="522.4" r="3.15" fill="#6652da"/><circle cx="464.4" cy="509.0" r="3.15" fill="#746bc7"/><circle cx="465.9" cy="487.7" r="3.15" fill="#7d90a9"/><circle cx="467.2" cy="452.8" r="3.15" fill="#6fca71"/><circle cx="468.6" cy="496.8" r="3.15" fill="#7b80b6"/><circle cx="469.7" cy="509.8" r="3.15" fill="#7469c9"/><circle cx="471.1" cy="512.4" r="3.15" fill="#7165cc"/><circle cx="472.3" cy="524.1" r="3.15" fill="#644fdc"/><circle cx="473.6" cy="530.0" r="3.15" fill="#5a43e4"/><circle cx="474.9" cy="530.8" r="3.15" fill="#5941e5"/><circle cx="476.3" cy="527.5" r="3.15" fill="#5f48e1"/><circle cx="477.6" cy="532.5" r="3.15" fill="#563de8"/><circle cx="478.6" cy="509.0" r="3.15" fill="#746bc7"/><circle cx="479.8" cy="483.0" r="3.15" fill="#7d98a2"/><circle cx="481.0" cy="496.4" r="3.15" fill="#7b81b6"/><circle cx="482.3" cy="509.8" r="3.15" fill="#7469c9"/><circle cx="483.7" cy="524.1" r="3.15" fill="#644fdc"/><circle cx="485.0" cy="522.4" r="3.15" fill="#6652da"/><circle cx="486.4" cy="530.8" r="3.15" fill="#5941e5"/><circle cx="487.7" cy="527.5" r="3.15" fill="#5f48e1"/><circle cx="489.0" cy="534.2" r="3.15" fill="#5239ea"/><circle cx="490.4" cy="535.9" r="3.15" fill="#4e35ec"/><circle cx="491.7" cy="526.6" r="3.15" fill="#604ae0"/><circle cx="493.1" cy="519.1" r="3.15" fill="#6b58d5"/><circle cx="494.4" cy="507.3" r="3.15" fill="#756ec5"/><circle cx="495.9" cy="480.0" r="3.15" fill="#7d9d9e"/><circle cx="497.3" cy="506.5" r="3.15" fill="#766fc4"/><circle cx="498.6" cy="508.2" r="3.15" fill="#756cc6"/><circle cx="500.0" cy="521.6" r="3.15" fill="#6753d9"/><circle cx="501.3" cy="526.6" r="3.15" fill="#604ae0"/><circle cx="502.5" cy="526.6" r="3.15" fill="#604ae0"/><circle cx="503.9" cy="535.0" r="3.15" fill="#5037eb"/><circle cx="505.2" cy="536.7" r="3.15" fill="#4c33ed"/><circle cx="506.5" cy="525.0" r="3.15" fill="#634ddd"/><circle cx="507.7" cy="514.0" r="3.15" fill="#7062ce"/><circle cx="508.9" cy="507.3" r="3.15" fill="#756ec5"/><circle cx="509.7" cy="472.4" r="3.15" fill="#7caa92"/><circle cx="511.1" cy="506.5" r="3.15" fill="#766fc4"/><circle cx="512.4" cy="450.8" r="3.15" fill="#6cce6d"/><circle cx="513.6" cy="481.6" r="3.15" fill="#7d9aa0"/><circle cx="514.8" cy="501.5" r="3.15" fill="#7978bd"/><circle cx="516.1" cy="519.1" r="3.15" fill="#6b58d5"/><circle cx="517.5" cy="522.4" r="3.15" fill="#6652da"/><circle cx="518.8" cy="533.3" r="3.15" fill="#543be9"/><circle cx="520.1" cy="535.0" r="3.15" fill="#5037eb"/><circle cx="521.5" cy="534.2" r="3.15" fill="#5239ea"/><circle cx="522.7" cy="518.2" r="3.15" fill="#6c5ad4"/><circle cx="523.8" cy="509.8" r="3.15" fill="#7469c9"/><circle cx="525.2" cy="492.7" r="3.15" fill="#7c87b0"/><circle cx="526.4" cy="492.2" r="3.15" fill="#7c88b0"/><circle cx="527.5" cy="452.3" r="3.15" fill="#6ecb70"/><circle cx="528.9" cy="491.4" r="3.15" fill="#7d89af"/><circle cx="530.2" cy="488.9" r="3.15" fill="#7d8eab"/><circle cx="531.4" cy="505.6" r="3.15" fill="#7771c3"/><circle cx="532.7" cy="515.7" r="3.15" fill="#6e5fd1"/><circle cx="534.1" cy="530.0" r="3.15" fill="#5a43e4"/><circle cx="535.4" cy="530.8" r="3.15" fill="#5941e5"/><circle cx="536.8" cy="529.2" r="3.15" fill="#5c44e3"/><circle cx="537.8" cy="509.0" r="3.15" fill="#746bc7"/><circle cx="538.9" cy="511.5" r="3.15" fill="#7266cb"/><circle cx="540.3" cy="519.9" r="3.15" fill="#6a57d6"/><circle cx="541.6" cy="513.2" r="3.15" fill="#7163cd"/><circle cx="543.0" cy="527.5" r="3.15" fill="#5f48e1"/><circle cx="544.3" cy="529.2" r="3.15" fill="#5c44e3"/><circle cx="545.7" cy="533.3" r="3.15" fill="#543be9"/><circle cx="547.0" cy="536.7" r="3.15" fill="#4c33ed"/><circle cx="548.3" cy="530.8" r="3.15" fill="#5941e5"/><circle cx="549.7" cy="527.5" r="3.15" fill="#5f48e1"/><circle cx="551.0" cy="525.8" r="3.15" fill="#624bde"/><circle cx="552.4" cy="525.0" r="3.15" fill="#634ddd"/><circle cx="553.4" cy="511.5" r="3.15" fill="#7266cb"/><circle cx="554.6" cy="484.7" r="3.15" fill="#7d95a5"/><circle cx="555.7" cy="495.6" r="3.15" fill="#7b82b5"/><circle cx="557.1" cy="488.9" r="3.15" fill="#7d8eab"/><circle cx="558.4" cy="509.8" r="3.15" fill="#7469c9"/><circle cx="559.6" cy="502.3" r="3.15" fill="#7977be"/><circle cx="560.9" cy="503.1" r="3.15" fill="#7875bf"/><circle cx="562.3" cy="521.6" r="3.15" fill="#6753d9"/><circle cx="563.5" cy="534.2" r="3.15" fill="#5239ea"/><circle cx="564.8" cy="536.7" r="3.15" fill="#4c33ed"/><circle cx="566.1" cy="528.3" r="3.15" fill="#5d46e2"/><circle cx="567.5" cy="516.6" r="3.15" fill="#6d5dd2"/><circle cx="568.8" cy="507.3" r="3.15" fill="#756ec5"/><circle cx="570.2" cy="518.2" r="3.15" fill="#6c5ad4"/><circle cx="571.3" cy="501.1" r="3.15" fill="#7979bc"/><circle cx="572.7" cy="519.9" r="3.15" fill="#6a57d6"/><circle cx="573.9" cy="507.3" r="3.15" fill="#756ec5"/><circle cx="575.2" cy="504.0" r="3.15" fill="#7874c0"/><circle cx="576.5" cy="504.8" r="3.15" fill="#7772c2"/><circle cx="577.7" cy="525.8" r="3.15" fill="#624bde"/><circle cx="579.1" cy="535.0" r="3.15" fill="#5037eb"/><circle cx="580.4" cy="537.5" r="3.15" fill="#4a31ee"/><circle cx="581.8" cy="531.7" r="3.15" fill="#573fe6"/><circle cx="583.1" cy="525.0" r="3.15" fill="#634ddd"/><circle cx="584.3" cy="515.7" r="3.15" fill="#6e5fd1"/><circle cx="585.4" cy="500.6" r="3.15" fill="#797abc"/><circle cx="586.8" cy="513.2" r="3.15" fill="#7163cd"/><circle cx="588.1" cy="520.8" r="3.15" fill="#6955d8"/><circle cx="589.5" cy="530.0" r="3.15" fill="#5a43e4"/><circle cx="590.8" cy="533.3" r="3.15" fill="#543be9"/><circle cx="592.2" cy="535.9" r="3.15" fill="#4e35ec"/><circle cx="593.5" cy="537.5" r="3.15" fill="#4a31ee"/><circle cx="594.8" cy="540.1" r="3.15" fill="#422bf2"/><circle cx="596.2" cy="540.9" r="3.15" fill="#4028f3"/><circle cx="597.5" cy="535.9" r="3.15" fill="#4e35ec"/><circle cx="598.9" cy="529.2" r="3.15" fill="#5c44e3"/><circle cx="600.2" cy="497.3" r="3.15" fill="#7b7fb7"/><circle cx="601.4" cy="450.3" r="3.15" fill="#6cce6c"/><circle cx="602.7" cy="502.3" r="3.15" fill="#7977be"/><circle cx="604.1" cy="509.8" r="3.15" fill="#7469c9"/><circle cx="605.4" cy="515.7" r="3.15" fill="#6e5fd1"/><circle cx="606.8" cy="519.9" r="3.15" fill="#6a57d6"/><circle cx="608.1" cy="529.2" r="3.15" fill="#5c44e3"/></g>
<path d="M66.7 506.5L68.4 515.7L69.7 486.3L70.9 505.6L72.1 509.0L73.8 446.6L75.1 511.5L76.5 513.2L77.6 507.3L79.0 515.2L80.1 530.0L81.5 535.0L82.8 533.3L84.0 530.0L85.2 505.6L86.4 418.7L87.2 465.4L88.5 495.6L90.2 458.3L91.6 508.2L92.7 503.1L94.1 497.3L95.4 525.8L96.8 530.0L98.1 529.2L99.4 527.5L100.6 520.8L102.0 514.0L103.8 292.9L105.0 406.4L106.2 464.5L107.5 472.4L108.7 505.6L110.0 506.5L111.2 514.0L112.4 521.6L113.7 532.5L115.1 532.5L116.2 524.1L117.6 517.4L118.8 502.3L120.1 495.6L121.3 502.0L122.4 517.4L123.8 519.1L125.0 525.0L126.3 533.3L127.7 534.2L129.0 530.8L130.2 526.6L131.5 525.8L132.9 522.4L134.0 520.8L135.2 519.1L136.5 516.9L137.7 525.0L139.1 530.8L140.4 534.2L141.8 535.9L143.1 535.9L144.4 534.2L145.8 530.8L147.1 525.8L148.5 525.0L149.8 529.2L151.2 495.6L152.3 527.5L153.7 525.8L155.0 535.0L156.4 538.4L157.7 539.2L159.0 536.7L160.4 533.3L161.7 530.0L163.1 514.0L164.1 464.5L165.4 487.2L166.6 505.6L167.9 513.2L169.1 515.7L170.5 526.6L171.8 530.8L172.7 532.5L174.0 530.8L175.4 522.4L176.7 392.1L177.9 394.2L179.2 473.8L180.6 476.3L181.8 492.2L183.1 508.2L184.3 505.6L185.6 530.0L186.8 532.5L188.1 535.0L189.5 529.2L190.6 525.0L191.8 491.4L193.2 391.3L194.3 459.1L195.7 492.2L196.9 491.4L198.0 512.4L199.4 519.1L200.6 525.8L201.9 535.0L203.2 534.2L204.6 530.8L205.6 515.7L206.8 506.5L208.1 480.5L209.4 439.3L210.8 497.3L212.0 495.6L213.3 511.5L214.7 522.4L216.0 533.3L217.3 535.9L218.7 535.0L220.0 527.5L221.4 522.4L222.5 521.1L223.4 487.2L224.6 427.3L225.9 480.5L227.1 490.5L228.4 502.3L229.6 502.3L230.9 514.0L232.1 530.8L233.5 535.0L234.6 532.5L236.0 525.8L237.1 522.4L238.5 504.8L239.8 510.7L241.2 508.2L242.5 519.9L243.9 525.8L245.0 532.5L246.2 540.1L247.6 540.9L248.9 537.5L250.2 535.0L251.4 522.4L252.3 514.0L253.4 372.3L254.8 479.6L255.9 451.9L257.1 445.7L258.5 451.9L259.8 488.0L261.2 498.1L262.3 514.0L263.7 528.3L265.0 524.1L266.2 522.4L267.5 517.4L268.9 517.4L270.2 529.2L271.6 530.8L272.9 537.5L274.2 540.9L275.6 542.6L276.9 543.4L278.3 541.7L279.6 540.1L281.0 539.2L282.1 525.0L282.5 518.2L283.9 510.7L285.0 515.7L286.2 511.5L287.4 436.5L288.7 509.0L290.1 509.8L291.1 524.1L292.4 535.9L293.8 534.2L295.1 530.8L296.1 527.5L297.5 532.5L298.6 402.9L299.8 426.8L301.2 492.2L302.5 436.8L303.5 505.6L304.8 510.7L306.0 510.7L307.4 524.1L308.5 533.3L309.9 532.5L311.2 525.8L312.1 476.3L313.2 463.3L314.7 337.1L315.9 423.1L317.3 482.7L318.6 507.3L320.0 520.8L321.1 512.4L322.3 532.5L323.6 535.0L325.0 511.5L326.2 519.1L327.5 489.7L328.7 450.3L329.9 472.9L331.2 319.4L332.5 457.0L333.7 470.4L334.9 486.0L336.2 493.1L337.4 512.4L338.8 530.0L340.1 526.6L341.4 524.1L342.6 522.4L343.8 483.0L345.1 483.8L346.3 515.7L347.7 516.6L349.0 519.1L350.2 520.8L351.5 528.3L352.9 532.5L354.2 534.2L355.5 530.8L356.5 501.5L357.7 513.2L359.1 502.3L360.4 478.0L361.8 490.2L363.1 501.5L364.4 510.7L365.8 518.2L367.1 526.6L368.5 534.2L369.8 530.8L371.2 525.8L372.3 524.1L373.2 496.4L374.3 409.8L375.7 417.3L376.7 398.5L378.0 473.8L379.4 505.6L380.7 500.6L381.9 498.9L383.2 515.7L384.4 530.0L385.8 525.0L386.9 516.6L388.1 507.3L389.1 439.8L390.5 381.9L391.6 435.1L392.5 473.4L393.9 477.4L395.0 493.9L396.4 501.5L397.7 516.6L399.1 519.9L400.4 515.7L401.8 511.5L403.1 518.2L404.3 516.6L405.4 490.2L406.8 506.5L408.1 517.4L409.5 518.2L410.8 520.8L412.0 528.3L413.3 535.9L414.7 537.5L416.0 535.0L416.9 522.4L418.2 405.1L419.4 460.7L420.6 475.8L421.9 440.5L423.2 488.9L424.4 511.5L425.8 518.6L426.9 530.0L428.3 532.5L429.6 534.2L431.0 535.0L432.3 532.5L433.3 506.5L434.5 494.7L435.7 477.6L437.0 463.3L438.3 489.7L439.5 507.3L440.9 514.0L442.0 523.3L443.4 529.2L444.7 535.0L446.1 535.9L447.4 530.8L448.8 515.7L449.9 509.8L451.3 514.0L452.6 519.1L454.0 521.6L455.3 525.8L456.6 530.0L458.0 532.5L459.3 535.0L460.7 533.3L462.0 530.8L463.2 522.4L464.4 509.0L465.9 487.7L467.2 452.8L468.6 496.8L469.7 509.8L471.1 512.4L472.3 524.1L473.6 530.0L474.9 530.8L476.3 527.5L477.6 532.5L478.6 509.0L479.8 483.0L481.0 496.4L482.3 509.8L483.7 524.1L485.0 522.4L486.4 530.8L487.7 527.5L489.0 534.2L490.4 535.9L491.7 526.6L493.1 519.1L494.4 507.3L495.9 480.0L497.3 506.5L498.6 508.2L500.0 521.6L501.3 526.6L502.5 526.6L503.9 535.0L505.2 536.7L506.5 525.0L507.7 514.0L508.9 507.3L509.7 472.4L511.1 506.5L512.4 450.8L513.6 481.6L514.8 501.5L516.1 519.1L517.5 522.4L518.8 533.3L520.1 535.0L521.5 534.2L522.7 518.2L523.8 509.8L525.2 492.7L526.4 492.2L527.5 452.3L528.9 491.4L530.2 488.9L531.4 505.6L532.7 515.7L534.1 530.0L535.4 530.8L536.8 529.2L537.8 509.0L538.9 511.5L540.3 519.9L541.6 513.2L543.0 527.5L544.3 529.2L545.7 533.3L547.0 536.7L548.3 530.8L549.7 527.5L551.0 525.8L552.4 525.0L553.4 511.5L554.6 484.7L555.7 495.6L557.1 488.9L558.4 509.8L559.6 502.3L560.9 503.1L562.3 521.6L563.5 534.2L564.8 536.7L566.1 528.3L567.5 516.6L568.8 507.3L570.2 518.2L571.3 501.1L572.7 519.9L573.9 507.3L575.2 504.0L576.5 504.8L577.7 525.8L579.1 535.0L580.4 537.5L581.8 531.7L583.1 525.0L584.3 515.7L585.4 500.6L586.8 513.2L588.1 520.8L589.5 530.0L590.8 533.3L592.2 535.9L593.5 537.5L594.8 540.1L596.2 540.9L597.5 535.9L598.9 529.2L600.2 497.3L601.4 450.3L602.7 502.3L604.1 509.8L605.4 515.7L606.8 519.9L608.1 529.2" stroke="#000" stroke-width="0.7" fill="none" stroke-linejoin="round"/>
<path d="M67.6 472.9L69.6 475.2L71.6 477.4L73.6 479.6L75.6 481.7L77.6 483.8L79.6 486.0L81.6 488.0L83.6 490.0L85.6 491.7L87.6 493.3L89.6 494.7L91.6 496.1L93.6 497.3L95.6 498.4L97.6 499.5L99.6 500.5L101.6 501.3L103.6 502.1L105.6 502.7L107.6 503.2L109.6 503.8L111.6 504.4L113.6 505.0L115.6 505.6L117.6 506.2L119.6 506.7L121.6 507.1L123.6 507.6L125.6 507.9L127.6 508.3L129.6 508.6L131.6 508.8L133.6 509.1L135.6 509.3L137.6 509.6L139.6 510.0L141.6 510.3L143.6 510.4L145.6 510.3L147.6 510.2L149.6 509.9L151.6 509.6L153.6 509.0L155.6 508.2L157.6 507.3L159.6 506.2L161.6 505.1L163.6 503.6L165.6 502.3L167.6 501.4L169.6 501.1L171.6 500.7L173.6 499.9L175.6 498.7L177.6 497.7L179.6 496.7L181.6 495.8L183.6 495.2L185.6 494.7L187.6 494.3L189.6 494.0L191.6 493.9L193.6 493.9L195.6 494.0L197.6 494.1L199.6 494.3L201.6 494.5L203.6 494.7L205.6 495.0L207.6 495.4L209.6 495.8L211.6 496.3L213.6 496.8L215.6 497.4L217.6 498.0L219.6 498.7L221.6 499.3L223.6 499.9L225.6 500.6L227.6 501.2L229.6 501.7L231.6 502.1L233.6 502.5L235.6 502.8L237.6 503.2L239.6 503.6L241.6 503.9L243.6 504.2L245.6 504.5L247.6 504.8L249.6 505.0L251.6 505.2L253.6 505.3L255.6 505.3L257.6 505.3L259.6 505.3L261.6 505.3L263.6 505.3L265.6 505.0L267.6 504.7L269.6 504.2L271.6 503.8L273.6 503.1L275.6 502.3L277.6 501.4L279.6 500.5L281.6 499.5L283.6 498.5L285.6 497.6L287.6 496.7L289.6 495.8L291.6 494.8L293.6 493.6L295.6 492.4L297.6 491.3L299.6 490.4L301.6 489.7L303.6 489.1L305.6 488.6L307.6 488.2L309.6 487.8L311.6 487.4L313.6 487.1L315.6 486.7L317.6 486.5L319.6 486.3L321.6 486.3L323.6 486.4L325.6 486.5L327.6 486.6L329.6 486.7L331.6 486.9L333.6 487.1L335.6 487.4L337.6 487.7L339.6 487.9L341.6 488.1L343.6 488.3L345.6 488.5L347.6 488.7L349.6 488.8L351.6 489.0L353.6 489.1L355.6 489.2L357.6 489.3L359.6 489.4L361.6 489.4L363.6 489.4L365.6 489.4L367.6 489.4L369.6 489.4L371.6 489.4L373.6 489.4L375.6 489.3L377.6 489.1L379.6 488.7L381.6 488.3L383.6 488.0L385.6 487.9L387.6 487.8L389.6 487.7L391.6 487.6L393.6 487.5L395.6 487.5L397.6 487.5L399.6 487.5L401.6 487.5L403.6 487.6L405.6 487.9L407.6 488.3L409.6 488.8L411.6 489.5L413.6 490.6L415.6 492.0L417.6 493.3L419.6 494.6L421.6 495.8L423.6 497.0L425.6 498.2L427.6 499.3L429.6 500.3L431.6 501.2L433.6 502.1L435.6 502.9L437.6 503.6L439.6 504.3L441.6 504.8L443.6 505.4L445.6 505.8L447.6 506.3L449.6 506.6L451.6 507.0L453.6 507.3L455.6 507.6L457.6 507.9L459.6 508.1L461.6 508.3L463.6 508.5L465.6 508.6L467.6 508.8L469.6 508.9L471.6 509.0L473.6 509.0L475.6 508.9L477.6 508.7L479.6 508.4L481.6 508.1L483.6 507.8L485.6 507.5L487.6 507.2L489.6 507.0L491.6 506.7L493.6 506.5L495.6 506.4L497.6 506.3L499.6 506.2L501.6 506.2L503.6 506.1L505.6 506.0L507.6 505.8L509.6 505.6L511.6 505.5L513.6 505.2L515.6 505.0L517.6 504.9L519.6 504.8L521.6 504.8L523.6 504.9L525.6 505.0L527.6 505.1L529.6 505.3L531.6 505.4L533.6 505.6L535.6 505.8L537.6 506.0L539.6 506.2L541.6 506.4L543.6 506.6L545.6 506.9L547.6 507.1L549.6 507.3L551.6 507.4L553.6 507.6L555.6 507.8L557.6 508.0L559.6 508.1L561.6 508.3L563.6 508.4L565.6 508.6L567.6 508.8L569.6 508.9L571.6 509.0L573.6 509.0L575.6 509.0L577.6 509.0L579.6 508.9L581.6 508.9L583.6 508.8L585.6 508.8L587.6 508.7L589.6 508.5L591.6 508.3L593.6 507.9L595.6 507.4L597.6 506.9L599.6 506.3L601.6 505.3L603.6 504.1L607.4 501.5L607.4 538.4L603.6 535.8L601.6 534.6L599.6 533.5L597.6 532.6L595.6 531.8L593.6 531.0L591.6 530.4L589.6 529.8L587.6 529.3L585.6 528.8L583.6 528.3L581.6 527.9L579.6 527.5L577.6 527.2L575.6 526.9L573.6 526.6L571.6 526.3L569.6 526.0L567.6 525.8L565.6 525.5L563.6 525.3L561.6 525.1L559.6 524.9L557.6 524.7L555.6 524.6L553.6 524.4L551.6 524.2L549.6 524.0L547.6 523.9L545.6 523.7L543.6 523.4L541.6 523.2L539.6 523.0L537.6 522.8L535.6 522.6L533.6 522.4L531.6 522.2L529.6 522.1L527.6 521.9L525.6 521.8L523.6 521.7L521.6 521.6L519.6 521.6L517.6 521.7L515.6 521.8L513.6 522.0L511.6 522.2L509.6 522.5L507.6 522.9L505.6 523.2L503.6 523.4L501.6 523.5L499.6 523.6L497.6 523.6L495.6 523.7L493.6 523.8L491.6 524.0L489.6 524.3L487.6 524.6L485.6 524.8L483.6 525.0L481.6 525.2L479.6 525.5L477.6 525.6L475.6 525.8L473.6 525.8L471.6 525.8L469.6 525.7L467.6 525.6L465.6 525.4L463.6 525.3L461.6 525.1L459.6 524.9L457.6 524.7L455.6 524.4L453.6 524.1L451.6 523.8L449.6 523.4L447.6 523.1L445.6 522.6L443.6 522.1L441.6 521.6L439.6 521.1L437.6 520.5L435.6 519.9L433.6 519.2L431.6 518.5L429.6 517.8L427.6 517.0L425.6 516.1L423.6 515.1L421.6 514.1L419.6 513.0L417.6 511.9L415.6 510.5L413.6 509.1L411.6 507.9L409.6 507.1L407.6 506.6L405.6 506.1L403.6 505.7L401.6 505.6L399.6 505.6L397.6 505.6L395.6 505.6L393.6 505.6L391.6 505.5L389.6 505.5L387.6 505.4L385.6 505.3L383.6 505.3L381.6 505.4L379.6 505.7L377.6 505.9L375.6 506.1L373.6 506.2L371.6 506.2L369.6 506.2L367.6 506.1L365.6 506.1L363.6 506.1L361.6 506.0L359.6 506.0L357.6 505.8L355.6 505.6L353.6 505.4L351.6 505.2L349.6 505.0L347.6 504.8L345.6 504.6L343.6 504.3L341.6 504.1L339.6 503.9L337.6 503.7L335.6 503.6L333.6 503.4L331.6 503.2L329.6 503.0L327.6 502.8L325.6 502.6L323.6 502.4L321.6 502.3L319.6 502.3L317.6 502.5L315.6 502.8L313.6 503.3L311.6 503.7L309.6 504.1L307.6 504.5L305.6 505.0L303.6 505.5L301.6 506.0L299.6 506.7L297.6 507.5L295.6 508.4L293.6 509.5L291.6 510.6L289.6 511.7L287.6 513.2L285.6 514.7L283.6 516.0L281.6 516.9L279.6 517.5L277.6 518.1L275.6 518.8L273.6 519.5L271.6 520.1L269.6 520.5L267.6 520.8L265.6 521.1L263.6 521.3L261.6 521.3L259.6 521.3L257.6 521.2L255.6 521.2L253.6 521.1L251.6 520.9L249.6 520.6L247.6 520.2L245.6 519.9L243.6 519.6L241.6 519.4L239.6 519.1L237.6 518.8L235.6 518.4L233.6 518.0L231.6 517.6L229.6 517.1L227.6 516.6L225.6 516.0L223.6 515.4L221.6 514.8L219.6 514.2L217.6 513.6L215.6 512.9L213.6 512.3L211.6 511.8L209.6 511.2L207.6 510.6L205.6 510.1L203.6 509.8L201.6 509.6L199.6 509.4L197.6 509.2L195.6 509.1L193.6 509.0L191.6 509.0L189.6 509.1L187.6 509.2L185.6 509.5L183.6 509.8L181.6 510.4L179.6 511.7L177.6 513.3L175.6 515.0L173.6 517.0L171.6 518.4L169.6 519.1L167.6 519.8L165.6 520.7L163.6 521.8L161.6 522.8L159.6 523.9L157.6 525.1L155.6 525.8L153.6 526.0L151.6 526.1L149.6 526.1L147.6 526.0L145.6 525.9L143.6 525.8L141.6 525.5L139.6 525.2L137.6 524.9L135.6 524.5L133.6 524.2L131.6 524.0L129.6 523.7L127.6 523.4L125.6 523.0L123.6 522.7L121.6 522.2L119.6 521.8L117.6 521.3L115.6 520.7L113.6 520.1L111.6 519.5L109.6 518.9L107.6 518.3L105.6 517.7L103.6 517.1L101.6 516.5L99.6 515.7L97.6 514.9L95.6 514.0L93.6 513.2L91.6 512.3L89.6 511.4L87.6 510.6L85.6 509.9L83.6 509.4L81.6 508.9L79.6 508.5L77.6 508.2L75.6 508.2L73.6 508.5L71.6 509.0L69.6 509.8L67.6 510.7Z" fill="#999" fill-opacity="0.39"/>
<path d="M67.6 491.4L69.6 492.2L71.6 493.1L73.6 494.0L75.6 495.0L77.6 496.0L79.6 497.2L81.6 498.4L83.6 499.7L85.6 500.8L87.6 501.9L89.6 502.9L91.6 503.9L93.6 504.8L95.6 505.7L97.6 506.5L99.6 507.3L101.6 508.0L103.6 508.8L105.6 509.7L107.6 510.5L109.6 511.2L111.6 511.9L113.6 512.5L115.6 513.1L117.6 513.7L119.6 514.2L121.6 514.6L123.6 515.1L125.6 515.4L127.6 515.8L129.6 516.1L131.6 516.4L133.6 516.7L135.6 516.9L137.6 517.2L139.6 517.5L141.6 517.7L143.6 517.9L145.6 518.0L147.6 518.1L149.6 518.2L151.6 518.2L153.6 517.9L155.6 517.4L157.6 516.4L159.6 514.8L161.6 513.5L163.6 512.5L165.6 511.5L167.6 510.6L169.6 509.8L171.6 509.0L173.6 507.8L175.6 506.3L177.6 505.1L179.6 503.9L181.6 502.8L183.6 502.3L185.6 502.0L187.6 501.7L189.6 501.6L191.6 501.5L193.6 501.5L195.6 501.6L197.6 501.7L199.6 501.9L201.6 502.1L203.6 502.3L205.6 502.6L207.6 503.0L209.6 503.4L211.6 503.9L213.6 504.4L215.6 505.0L217.6 505.6L219.6 506.3L221.6 506.9L223.6 507.5L225.6 508.1L227.6 508.7L229.6 509.2L231.6 509.6L233.6 510.0L235.6 510.4L237.6 510.8L239.6 511.1L241.6 511.4L243.6 511.7L245.6 512.0L247.6 512.3L249.6 512.5L251.6 512.7L253.6 512.9L255.6 513.0L257.6 513.1L259.6 513.2L261.6 513.2L263.6 513.2L265.6 512.9L267.6 512.6L269.6 512.2L271.6 511.8L273.6 511.2L275.6 510.5L277.6 509.7L279.6 509.0L281.6 508.1L283.6 507.2L285.6 506.3L287.6 505.2L289.6 504.2L291.6 503.1L293.6 501.9L295.6 500.8L297.6 499.7L299.6 498.8L301.6 498.1L303.6 497.6L305.6 497.1L307.6 496.6L309.6 496.2L311.6 495.8L313.6 495.4L315.6 494.9L317.6 494.6L319.6 494.4L321.6 494.4L323.6 494.5L325.6 494.7L327.6 494.9L329.6 495.0L331.6 495.2L333.6 495.3L335.6 495.5L337.6 495.7L339.6 495.8L341.6 496.0L343.6 496.2L345.6 496.4L347.6 496.6L349.6 496.8L351.6 497.0L353.6 497.2L355.6 497.4L357.6 497.6L359.6 497.8L361.6 497.8L363.6 497.9L365.6 498.0L367.6 498.0L369.6 498.1L371.6 498.1L373.6 498.1L375.6 498.0L377.6 497.7L379.6 497.3L381.6 497.0L383.6 496.8L385.6 496.8L387.6 496.8L389.6 496.8L391.6 496.8L393.6 496.8L395.6 496.8L397.6 496.8L399.6 496.8L401.6 496.8L403.6 497.0L405.6 497.4L407.6 498.0L409.6 498.7L411.6 499.5L413.6 500.5L415.6 501.5L417.6 502.6L419.6 503.7L421.6 504.7L423.6 505.7L425.6 506.8L427.6 507.7L429.6 508.7L431.6 509.6L433.6 510.5L435.6 511.3L437.6 512.0L439.6 512.7L441.6 513.2L443.6 513.8L445.6 514.2L447.6 514.7L449.6 515.0L451.6 515.4L453.6 515.7L455.6 516.0L457.6 516.3L459.6 516.5L461.6 516.7L463.6 516.9L465.6 517.0L467.6 517.2L469.6 517.3L471.6 517.4L473.6 517.4L475.6 517.4L477.6 517.2L479.6 517.1L481.6 516.8L483.6 516.6L485.6 516.4L487.6 516.2L489.6 515.9L491.6 515.7L493.6 515.5L495.6 515.3L497.6 515.1L499.6 514.9L501.6 514.8L503.6 514.6L505.6 514.4L507.6 514.2L509.6 514.0L511.6 513.8L513.6 513.6L515.6 513.4L517.6 513.3L519.6 513.2L521.6 513.2L523.6 513.3L525.6 513.4L527.6 513.5L529.6 513.7L531.6 513.8L533.6 514.0L535.6 514.2L537.6 514.3L539.6 514.5L541.6 514.7L543.6 514.9L545.6 515.1L547.6 515.3L549.6 515.5L551.6 515.7L553.6 515.9L555.6 516.1L557.6 516.3L559.6 516.5L561.6 516.7L563.6 516.9L565.6 517.0L567.6 517.2L569.6 517.4L571.6 517.5L573.6 517.7L575.6 517.8L577.6 518.0L579.6 518.1L581.6 518.3L583.6 518.4L585.6 518.6L587.6 518.7L589.6 518.9L591.6 519.1L593.6 519.3L595.6 519.4L597.6 519.6L599.6 519.8L601.6 519.9L603.6 520.1L607.4 520.4" stroke="#ec1c24" stroke-width="1.55" fill="none" stroke-linejoin="round"/>
</g>
<rect x="62.3" y="280.3" width="551.2" height="274.9" fill="none" stroke="#c4c4c4" stroke-width="1"/>
<path d="M59.7 545H62.3M59.7 464.2H62.3M59.7 383.5H62.3M59.7 302.7H62.3" stroke="#444" stroke-width="0.9" fill="none"/>
<text x="58.4" y="549.6" font-size="12.8" font-weight="bold" fill="#666666" text-anchor="end">0</text>
<text x="58.4" y="468.8" font-size="12.8" font-weight="bold" fill="#666666" text-anchor="end">1000</text>
<text x="58.4" y="388.0" font-size="12.8" font-weight="bold" fill="#666666" text-anchor="end">2000</text>
<text x="58.4" y="307.3" font-size="12.8" font-weight="bold" fill="#666666" text-anchor="end">3000</text>
<path d="M81.6 555.2v2.6M111.7 555.2v2.6M141.8 555.2v2.6M171.9 555.2v2.6M202 555.2v2.6M232.2 555.2v2.6M262.3 555.2v2.6M292.4 555.2v2.6M322.5 555.2v2.6M352.6 555.2v2.6M382.7 555.2v2.6M412.8 555.2v2.6M442.9 555.2v2.6M473 555.2v2.6M503.1 555.2v2.6M533.2 555.2v2.6M563.4 555.2v2.6M593.5 555.2v2.6" stroke="#444" stroke-width="0.9" fill="none"/>
<text x="605" y="311.8" font-size="25.5" text-anchor="end" fill="#111">b)</text>
<text transform="translate(16.2 403.4) rotate(-90)" font-family="'Liberation Serif', serif" font-weight="bold" font-size="18.9" text-anchor="middle" fill="#000">Streamflow (m<tspan font-size="13" dy="-6.5">3</tspan><tspan dy="6.5"> s</tspan><tspan font-size="13" dy="-6.5">-1</tspan><tspan dy="6.5">)</tspan></text>
<defs><linearGradient id="gb" x1="0" y1="0" x2="0" y2="1"><stop offset="0.0000" stop-color="#ff0000"/><stop offset="0.0417" stop-color="#f84200"/><stop offset="0.0833" stop-color="#f15f00"/><stop offset="0.1250" stop-color="#e97500"/><stop offset="0.1667" stop-color="#e08800"/><stop offset="0.2083" stop-color="#d69900"/><stop offset="0.2500" stop-color="#caa900"/><stop offset="0.2917" stop-color="#bdb800"/><stop offset="0.3333" stop-color="#aec600"/><stop offset="0.3750" stop-color="#9cd400"/><stop offset="0.4167" stop-color="#86e100"/><stop offset="0.4583" stop-color="#68ee00"/><stop offset="0.5000" stop-color="#33fb00"/><stop offset="0.5417" stop-color="#3df334"/><stop offset="0.5833" stop-color="#5ae153"/><stop offset="0.6250" stop-color="#6bd06a"/><stop offset="0.6667" stop-color="#75bf7d"/><stop offset="0.7083" stop-color="#7bad8f"/><stop offset="0.7500" stop-color="#7d9c9f"/><stop offset="0.7917" stop-color="#7d8aae"/><stop offset="0.8333" stop-color="#7978bd"/><stop offset="0.8750" stop-color="#7265cc"/><stop offset="0.9167" stop-color="#6652da"/><stop offset="0.9583" stop-color="#553ce8"/><stop offset="1.0000" stop-color="#3621f6"/></linearGradient></defs>
<rect x="624.2" y="381" width="19.2" height="90.8" fill="url(#gb)"/>
<path d="M624.2 384.6h3.6M643.4000000000001 384.6h-3.6M624.2 413.9h3.6M643.4000000000001 413.9h-3.6M624.2 443.2h3.6M643.4000000000001 443.2h-3.6" stroke="#fff" stroke-opacity="0.75" stroke-width="0.5" fill="none"/>
<text x="649.6" y="388.3" font-size="10.4" fill="#1a1a1a">3000</text>
<text x="649.6" y="417.6" font-size="10.4" fill="#1a1a1a">2000</text>
<text x="649.6" y="446.9" font-size="10.4" fill="#1a1a1a">1000</text>
<rect x="683.2" y="367.6" width="1" height="2.4" fill="#999"/>
<rect x="61.3" y="562.3" width="554.0" height="264.0" fill="#fff"/>
<path d="M83.2 562.3V826.3M114.8 562.3V826.3M146.2 562.3V826.3M177.8 562.3V826.3M209.2 562.3V826.3M240.8 562.3V826.3M272.2 562.3V826.3M303.8 562.3V826.3M335.2 562.3V826.3M366.8 562.3V826.3M398.2 562.3V826.3M429.8 562.3V826.3M461.2 562.3V826.3M492.8 562.3V826.3M524.2 562.3V826.3M555.8 562.3V826.3M587.2 562.3V826.3M61.3 794.6H615.3M61.3 754.6H615.3M61.3 714.5H615.3M61.3 674.5H615.3M61.3 634.4H615.3M61.3 594.4H615.3" stroke="#ebebeb" stroke-width="0.4" fill="none"/>
<path d="M67.5 562.3V826.3M99 562.3V826.3M130.5 562.3V826.3M162 562.3V826.3M193.5 562.3V826.3M225 562.3V826.3M256.5 562.3V826.3M288 562.3V826.3M319.5 562.3V826.3M351 562.3V826.3M382.5 562.3V826.3M414 562.3V826.3M445.5 562.3V826.3M477 562.3V826.3M508.5 562.3V826.3M540 562.3V826.3M571.5 562.3V826.3M603 562.3V826.3M61.3 814.6H615.3M61.3 774.6H615.3M61.3 734.5H615.3M61.3 694.5H615.3M61.3 654.5H615.3M61.3 614.4H615.3M61.3 574.4H615.3" stroke="#ebebeb" stroke-width="0.75" fill="none"/>
<clipPath id="cpos"><rect x="61" y="562" width="555" height="133"/></clipPath>
<clipPath id="cneg"><rect x="61" y="695" width="555" height="131"/></clipPath>
<path d="M65.7 695.0L65.7 694.4L65.7 700.0L69.2 699.6L70.7 696.5L71.3 694.4L71.9 671.9L72.7 641.1L73.5 620.5L74.2 609.2L75.0 619.5L76.0 620.5L76.8 617.5L77.7 621.6L78.5 624.6L79.5 634.9L80.5 629.8L81.6 626.7L83.0 626.7L84.2 627.7L85.5 626.3L86.7 626.7L87.5 641.1L88.3 655.4L89.2 676.0L89.6 702.6L89.8 725.6L90.4 725.6L90.6 694.4L90.8 661.6L91.2 646.2L92.0 649.3L92.8 645.2L94.1 644.1L95.3 643.7L96.1 654.4L98.0 655.0L100.0 654.4L102.1 653.8L103.7 653.4L104.8 654.4L105.4 628.7L106.2 628.7L106.6 661.6L107.2 684.2L108.5 684.6L110.1 684.2L111.3 688.7L113.0 687.9L115.0 687.3L116.5 687.3L117.5 691.4L118.7 694.4L119.9 695.5L120.8 704.7L121.2 719.1L122.0 719.1L122.4 708.8L123.2 711.9L124.5 723.2L125.3 729.7L126.5 728.3L127.7 727.3L129.0 723.2L130.2 720.7L131.9 718.0L132.9 708.8L133.9 698.5L134.7 696.5L135.5 697.5L136.4 702.6L137.2 727.3L138.0 743.7L138.8 752.9L139.7 758.5L140.5 751.9L141.3 727.3L142.1 723.2L142.9 719.1L143.8 716.0L144.6 721.1L145.8 723.2L147.0 722.2L147.9 724.2L148.7 739.6L149.5 745.8L150.7 746.8L151.4 733.4L151.8 706.8L152.2 694.4L152.8 678.0L153.4 665.7L154.0 658.5L154.8 659.5L155.7 661.6L156.5 669.8L157.7 673.9L159.4 674.9L160.2 666.7L161.4 666.1L162.6 667.3L163.9 661.6L165.1 653.4L166.3 641.1L167.6 626.7L168.4 612.3L168.8 605.1L169.6 612.3L170.4 618.5L171.7 619.5L172.5 622.6L173.3 625.7L174.6 628.7L175.8 630.8L177.0 633.9L178.7 635.9L180.3 639.0L182.4 640.0L183.2 657.5L183.8 669.8L184.4 688.3L184.8 705.7L185.2 694.4L185.6 691.4L186.5 690.9L186.9 700.6L187.7 704.7L188.5 705.7L189.7 702.6L191.4 701.6L193.4 700.6L195.5 700.2L197.1 699.6L197.5 694.8L197.9 696.5L198.3 722.2L199.9 722.8L200.5 710.9L201.6 704.7L202.4 709.8L203.2 706.8L204.4 702.6L205.7 701.0L206.9 702.6L208.1 703.7L209.8 703.7L211.4 704.7L212.7 706.8L213.9 715.0L214.7 725.2L215.5 735.1L216.4 735.5L217.0 715.0L217.6 694.4L218.0 686.2L218.8 686.6L219.6 689.3L220.9 690.3L222.5 690.9L224.2 691.4L225.4 689.3L226.6 687.9L227.8 688.3L228.7 691.4L229.9 690.3L230.7 693.4L231.1 694.4L231.5 708.8L232.0 731.4L232.6 760.1L233.0 766.7L233.6 766.7L234.0 751.9L234.8 744.7L235.6 747.8L236.5 748.8L237.7 746.8L239.3 744.7L241.0 743.3L242.6 742.1L244.3 744.7L245.5 739.6L246.3 734.5L246.7 715.0L246.9 694.4L247.1 676.0L248.0 673.9L248.8 671.9L249.6 679.0L250.4 665.7L251.7 651.3L252.9 641.1L254.1 639.0L255.4 638.4L256.6 640.0L257.8 640.6L259.1 641.1L260.3 643.1L261.9 643.5L262.3 667.7L262.7 694.4L263.4 717.0L264.8 727.3L266.4 739.6L267.8 773.8L269.3 788.6L270.7 790.9L271.7 789.6L273.3 784.4L274.9 782.8L275.9 787.5L277.0 803.4L278.0 803.9L278.6 782.2L279.4 761.1L280.7 745.3L281.2 733.4L282.0 717.0L282.3 694.4L282.7 685.2L283.7 684.2L285.3 683.1L287.0 684.2L288.4 683.8L289.4 680.5L290.7 682.1L291.9 684.6L293.1 688.3L293.7 671.9L294.4 641.1L295.2 642.1L296.0 649.3L297.2 663.6L298.3 670.8L299.3 673.5L300.5 672.9L302.2 671.9L303.4 667.7L304.2 667.3L305.4 671.9L306.7 670.8L307.5 659.5L308.3 637.0L308.7 624.6L309.6 624.2L310.0 661.6L310.4 695.5L310.8 694.4L311.2 661.6L312.0 637.0L312.6 629.4L313.5 629.8L314.1 641.1L315.3 653.8L316.5 654.4L317.8 653.4L319.0 655.0L319.8 656.5L320.6 651.3L321.9 640.0L322.7 639.0L323.5 641.1L324.7 637.0L326.0 626.3L326.8 626.7L327.4 641.1L328.0 649.3L328.9 643.1L329.7 632.8L330.5 626.7L331.7 625.7L333.3 623.6L334.9 619.5L335.7 618.9L336.6 622.6L337.8 630.8L339.0 636.5L340.3 637.0L341.1 657.5L342.3 665.7L343.5 676.0L344.4 694.4L344.8 710.9L346.0 721.1L347.2 729.7L348.5 721.1L349.7 723.2L350.9 729.3L352.6 728.3L353.8 723.2L354.6 710.9L355.3 693.4L355.9 696.5L356.7 702.6L357.5 713.3L358.3 713.9L358.7 702.6L360.0 698.5L361.2 696.5L362.4 695.5L363.3 691.8L364.1 692.4L364.9 695.5L365.7 690.3L367.0 689.9L368.6 689.7L370.2 689.9L370.6 702.6L371.1 720.1L371.7 720.1L372.1 694.4L372.5 671.9L373.1 644.1L373.9 643.1L374.8 647.2L375.6 632.8L376.8 632.4L377.6 635.9L378.5 640.0L379.7 640.6L381.3 641.1L383.0 640.6L384.2 641.1L385.0 642.1L385.8 640.0L386.7 637.6L387.5 638.0L388.3 655.4L389.1 665.7L389.7 669.8L390.4 653.4L391.0 641.1L391.6 642.1L392.0 658.5L392.8 657.5L393.6 656.5L394.3 650.3L395.1 650.9L395.7 655.4L397.3 655.8L399.0 655.4L399.8 650.3L401.0 647.6L402.3 648.2L403.5 649.3L404.3 649.7L404.7 665.7L405.5 682.1L406.2 694.4L406.8 708.8L407.6 719.1L408.4 727.3L409.2 735.5L410.1 745.8L410.9 746.8L412.1 750.9L413.4 751.9L414.6 758.1L415.8 764.2L417.0 765.3L417.9 758.1L418.7 747.8L419.5 723.2L420.3 706.8L421.2 700.6L421.8 694.4L422.4 686.2L423.2 681.1L424.0 676.0L424.8 674.5L426.5 674.3L428.5 674.5L430.6 674.5L432.2 676.0L433.5 680.1L434.3 687.3L434.9 694.4L435.5 713.9L435.9 706.8L436.8 703.7L437.6 721.1L438.4 721.5L439.2 711.9L440.4 711.3L441.7 706.8L442.5 700.6L443.3 696.5L444.6 696.1L446.2 695.5L447.8 694.8L449.1 694.0L449.9 693.4L450.7 696.5L451.5 707.8L452.4 710.9L452.8 702.6L453.2 692.0L454.0 691.4L454.4 702.6L454.8 716.0L456.1 718.0L457.3 719.1L458.5 720.7L459.7 719.1L461.0 718.0L462.6 717.0L463.9 712.9L464.7 704.7L465.5 700.0L466.7 699.6L468.1 712.7L469.0 725.9L469.8 726.3L470.3 695.1L470.7 686.7L472.0 686.3L472.9 689.6L474.3 691.8L476.0 692.9L477.8 693.3L478.7 695.1L479.5 703.9L480.4 712.7L481.3 713.1L482.2 708.3L483.5 705.0L484.4 719.3L485.3 732.5L486.1 743.5L487.0 750.1L487.9 753.4L488.3 745.7L489.2 732.5L490.6 725.9L491.4 720.4L493.2 718.9L495.0 718.2L496.7 717.5L498.0 717.1L498.9 723.7L499.4 730.3L500.2 730.3L500.7 717.1L501.6 701.7L502.9 699.5L503.8 695.1L504.2 703.9L505.1 712.7L506.4 717.1L507.3 721.5L508.6 721.9L509.9 721.5L511.3 719.3L513.0 717.1L514.3 714.9L515.2 706.1L516.1 697.3L517.0 702.8L517.4 699.5L517.9 694.0L518.7 687.4L520.1 685.2L521.8 681.9L523.1 680.1L524.9 679.6L526.7 680.3L528.0 680.7L528.9 678.5L529.3 694.0L529.8 712.7L530.2 734.7L530.6 746.2L531.5 746.2L532.0 734.7L532.8 717.1L533.7 706.1L534.6 707.2L535.5 699.5L535.9 692.9L536.8 693.3L537.7 695.1L538.6 696.8L539.9 696.8L541.7 696.4L543.0 696.2L543.4 694.0L543.9 687.4L544.7 681.9L545.6 680.3L546.1 684.1L546.9 690.7L547.8 694.0L548.3 703.9L549.1 721.5L550.0 734.7L550.9 741.3L551.8 744.0L552.7 743.5L554.0 741.3L555.7 740.9L557.5 740.4L558.8 741.3L559.3 752.3L559.7 757.8L561.0 758.5L561.5 745.7L561.9 728.1L562.8 706.1L563.2 710.5L563.7 723.7L564.1 724.1L564.6 706.1L565.0 694.0L565.9 684.1L566.8 681.2L568.1 680.7L569.4 680.1L570.3 683.0L571.6 682.5L572.9 683.0L573.8 681.4L574.7 681.9L575.6 685.2L576.5 689.6L577.3 694.0L577.8 706.1L578.2 723.7L579.1 725.9L580.0 734.7L580.9 742.4L582.2 741.8L583.5 740.9L584.8 739.6L586.6 740.4L588.3 740.9L589.7 743.5L590.6 750.1L591.4 750.1L591.9 743.5L592.3 735.2L593.2 735.8L594.1 745.7L595.0 752.3L595.8 750.1L596.7 752.3L598.0 751.2L599.4 752.8L600.7 753.4L602.0 754.1L603.3 753.2L604.6 754.1L606.0 753.4L607.3 752.8L607.7 772.2L608.2 794.2L608.6 806.7L609.1 806.7L609.3 694.0L609.3 695.0Z" fill="#00008b" clip-path="url(#cpos)"/>
<path d="M65.7 695.0L65.7 694.4L65.7 700.0L69.2 699.6L70.7 696.5L71.3 694.4L71.9 671.9L72.7 641.1L73.5 620.5L74.2 609.2L75.0 619.5L76.0 620.5L76.8 617.5L77.7 621.6L78.5 624.6L79.5 634.9L80.5 629.8L81.6 626.7L83.0 626.7L84.2 627.7L85.5 626.3L86.7 626.7L87.5 641.1L88.3 655.4L89.2 676.0L89.6 702.6L89.8 725.6L90.4 725.6L90.6 694.4L90.8 661.6L91.2 646.2L92.0 649.3L92.8 645.2L94.1 644.1L95.3 643.7L96.1 654.4L98.0 655.0L100.0 654.4L102.1 653.8L103.7 653.4L104.8 654.4L105.4 628.7L106.2 628.7L106.6 661.6L107.2 684.2L108.5 684.6L110.1 684.2L111.3 688.7L113.0 687.9L115.0 687.3L116.5 687.3L117.5 691.4L118.7 694.4L119.9 695.5L120.8 704.7L121.2 719.1L122.0 719.1L122.4 708.8L123.2 711.9L124.5 723.2L125.3 729.7L126.5 728.3L127.7 727.3L129.0 723.2L130.2 720.7L131.9 718.0L132.9 708.8L133.9 698.5L134.7 696.5L135.5 697.5L136.4 702.6L137.2 727.3L138.0 743.7L138.8 752.9L139.7 758.5L140.5 751.9L141.3 727.3L142.1 723.2L142.9 719.1L143.8 716.0L144.6 721.1L145.8 723.2L147.0 722.2L147.9 724.2L148.7 739.6L149.5 745.8L150.7 746.8L151.4 733.4L151.8 706.8L152.2 694.4L152.8 678.0L153.4 665.7L154.0 658.5L154.8 659.5L155.7 661.6L156.5 669.8L157.7 673.9L159.4 674.9L160.2 666.7L161.4 666.1L162.6 667.3L163.9 661.6L165.1 653.4L166.3 641.1L167.6 626.7L168.4 612.3L168.8 605.1L169.6 612.3L170.4 618.5L171.7 619.5L172.5 622.6L173.3 625.7L174.6 628.7L175.8 630.8L177.0 633.9L178.7 635.9L180.3 639.0L182.4 640.0L183.2 657.5L183.8 669.8L184.4 688.3L184.8 705.7L185.2 694.4L185.6 691.4L186.5 690.9L186.9 700.6L187.7 704.7L188.5 705.7L189.7 702.6L191.4 701.6L193.4 700.6L195.5 700.2L197.1 699.6L197.5 694.8L197.9 696.5L198.3 722.2L199.9 722.8L200.5 710.9L201.6 704.7L202.4 709.8L203.2 706.8L204.4 702.6L205.7 701.0L206.9 702.6L208.1 703.7L209.8 703.7L211.4 704.7L212.7 706.8L213.9 715.0L214.7 725.2L215.5 735.1L216.4 735.5L217.0 715.0L217.6 694.4L218.0 686.2L218.8 686.6L219.6 689.3L220.9 690.3L222.5 690.9L224.2 691.4L225.4 689.3L226.6 687.9L227.8 688.3L228.7 691.4L229.9 690.3L230.7 693.4L231.1 694.4L231.5 708.8L232.0 731.4L232.6 760.1L233.0 766.7L233.6 766.7L234.0 751.9L234.8 744.7L235.6 747.8L236.5 748.8L237.7 746.8L239.3 744.7L241.0 743.3L242.6 742.1L244.3 744.7L245.5 739.6L246.3 734.5L246.7 715.0L246.9 694.4L247.1 676.0L248.0 673.9L248.8 671.9L249.6 679.0L250.4 665.7L251.7 651.3L252.9 641.1L254.1 639.0L255.4 638.4L256.6 640.0L257.8 640.6L259.1 641.1L260.3 643.1L261.9 643.5L262.3 667.7L262.7 694.4L263.4 717.0L264.8 727.3L266.4 739.6L267.8 773.8L269.3 788.6L270.7 790.9L271.7 789.6L273.3 784.4L274.9 782.8L275.9 787.5L277.0 803.4L278.0 803.9L278.6 782.2L279.4 761.1L280.7 745.3L281.2 733.4L282.0 717.0L282.3 694.4L282.7 685.2L283.7 684.2L285.3 683.1L287.0 684.2L288.4 683.8L289.4 680.5L290.7 682.1L291.9 684.6L293.1 688.3L293.7 671.9L294.4 641.1L295.2 642.1L296.0 649.3L297.2 663.6L298.3 670.8L299.3 673.5L300.5 672.9L302.2 671.9L303.4 667.7L304.2 667.3L305.4 671.9L306.7 670.8L307.5 659.5L308.3 637.0L308.7 624.6L309.6 624.2L310.0 661.6L310.4 695.5L310.8 694.4L311.2 661.6L312.0 637.0L312.6 629.4L313.5 629.8L314.1 641.1L315.3 653.8L316.5 654.4L317.8 653.4L319.0 655.0L319.8 656.5L320.6 651.3L321.9 640.0L322.7 639.0L323.5 641.1L324.7 637.0L326.0 626.3L326.8 626.7L327.4 641.1L328.0 649.3L328.9 643.1L329.7 632.8L330.5 626.7L331.7 625.7L333.3 623.6L334.9 619.5L335.7 618.9L336.6 622.6L337.8 630.8L339.0 636.5L340.3 637.0L341.1 657.5L342.3 665.7L343.5 676.0L344.4 694.4L344.8 710.9L346.0 721.1L347.2 729.7L348.5 721.1L349.7 723.2L350.9 729.3L352.6 728.3L353.8 723.2L354.6 710.9L355.3 693.4L355.9 696.5L356.7 702.6L357.5 713.3L358.3 713.9L358.7 702.6L360.0 698.5L361.2 696.5L362.4 695.5L363.3 691.8L364.1 692.4L364.9 695.5L365.7 690.3L367.0 689.9L368.6 689.7L370.2 689.9L370.6 702.6L371.1 720.1L371.7 720.1L372.1 694.4L372.5 671.9L373.1 644.1L373.9 643.1L374.8 647.2L375.6 632.8L376.8 632.4L377.6 635.9L378.5 640.0L379.7 640.6L381.3 641.1L383.0 640.6L384.2 641.1L385.0 642.1L385.8 640.0L386.7 637.6L387.5 638.0L388.3 655.4L389.1 665.7L389.7 669.8L390.4 653.4L391.0 641.1L391.6 642.1L392.0 658.5L392.8 657.5L393.6 656.5L394.3 650.3L395.1 650.9L395.7 655.4L397.3 655.8L399.0 655.4L399.8 650.3L401.0 647.6L402.3 648.2L403.5 649.3L404.3 649.7L404.7 665.7L405.5 682.1L406.2 694.4L406.8 708.8L407.6 719.1L408.4 727.3L409.2 735.5L410.1 745.8L410.9 746.8L412.1 750.9L413.4 751.9L414.6 758.1L415.8 764.2L417.0 765.3L417.9 758.1L418.7 747.8L419.5 723.2L420.3 706.8L421.2 700.6L421.8 694.4L422.4 686.2L423.2 681.1L424.0 676.0L424.8 674.5L426.5 674.3L428.5 674.5L430.6 674.5L432.2 676.0L433.5 680.1L434.3 687.3L434.9 694.4L435.5 713.9L435.9 706.8L436.8 703.7L437.6 721.1L438.4 721.5L439.2 711.9L440.4 711.3L441.7 706.8L442.5 700.6L443.3 696.5L444.6 696.1L446.2 695.5L447.8 694.8L449.1 694.0L449.9 693.4L450.7 696.5L451.5 707.8L452.4 710.9L452.8 702.6L453.2 692.0L454.0 691.4L454.4 702.6L454.8 716.0L456.1 718.0L457.3 719.1L458.5 720.7L459.7 719.1L461.0 718.0L462.6 717.0L463.9 712.9L464.7 704.7L465.5 700.0L466.7 699.6L468.1 712.7L469.0 725.9L469.8 726.3L470.3 695.1L470.7 686.7L472.0 686.3L472.9 689.6L474.3 691.8L476.0 692.9L477.8 693.3L478.7 695.1L479.5 703.9L480.4 712.7L481.3 713.1L482.2 708.3L483.5 705.0L484.4 719.3L485.3 732.5L486.1 743.5L487.0 750.1L487.9 753.4L488.3 745.7L489.2 732.5L490.6 725.9L491.4 720.4L493.2 718.9L495.0 718.2L496.7 717.5L498.0 717.1L498.9 723.7L499.4 730.3L500.2 730.3L500.7 717.1L501.6 701.7L502.9 699.5L503.8 695.1L504.2 703.9L505.1 712.7L506.4 717.1L507.3 721.5L508.6 721.9L509.9 721.5L511.3 719.3L513.0 717.1L514.3 714.9L515.2 706.1L516.1 697.3L517.0 702.8L517.4 699.5L517.9 694.0L518.7 687.4L520.1 685.2L521.8 681.9L523.1 680.1L524.9 679.6L526.7 680.3L528.0 680.7L528.9 678.5L529.3 694.0L529.8 712.7L530.2 734.7L530.6 746.2L531.5 746.2L532.0 734.7L532.8 717.1L533.7 706.1L534.6 707.2L535.5 699.5L535.9 692.9L536.8 693.3L537.7 695.1L538.6 696.8L539.9 696.8L541.7 696.4L543.0 696.2L543.4 694.0L543.9 687.4L544.7 681.9L545.6 680.3L546.1 684.1L546.9 690.7L547.8 694.0L548.3 703.9L549.1 721.5L550.0 734.7L550.9 741.3L551.8 744.0L552.7 743.5L554.0 741.3L555.7 740.9L557.5 740.4L558.8 741.3L559.3 752.3L559.7 757.8L561.0 758.5L561.5 745.7L561.9 728.1L562.8 706.1L563.2 710.5L563.7 723.7L564.1 724.1L564.6 706.1L565.0 694.0L565.9 684.1L566.8 681.2L568.1 680.7L569.4 680.1L570.3 683.0L571.6 682.5L572.9 683.0L573.8 681.4L574.7 681.9L575.6 685.2L576.5 689.6L577.3 694.0L577.8 706.1L578.2 723.7L579.1 725.9L580.0 734.7L580.9 742.4L582.2 741.8L583.5 740.9L584.8 739.6L586.6 740.4L588.3 740.9L589.7 743.5L590.6 750.1L591.4 750.1L591.9 743.5L592.3 735.2L593.2 735.8L594.1 745.7L595.0 752.3L595.8 750.1L596.7 752.3L598.0 751.2L599.4 752.8L600.7 753.4L602.0 754.1L603.3 753.2L604.6 754.1L606.0 753.4L607.3 752.8L607.7 772.2L608.2 794.2L608.6 806.7L609.1 806.7L609.3 694.0L609.3 695.0Z" fill="#ff0000" clip-path="url(#cneg)"/>
<path d="M65.7 694.4L65.7 700.0L69.2 699.6L70.7 696.5L71.3 694.4L71.9 671.9L72.7 641.1L73.5 620.5L74.2 609.2L75.0 619.5L76.0 620.5L76.8 617.5L77.7 621.6L78.5 624.6L79.5 634.9L80.5 629.8L81.6 626.7L83.0 626.7L84.2 627.7L85.5 626.3L86.7 626.7L87.5 641.1L88.3 655.4L89.2 676.0L89.6 702.6L89.8 725.6L90.4 725.6L90.6 694.4L90.8 661.6L91.2 646.2L92.0 649.3L92.8 645.2L94.1 644.1L95.3 643.7L96.1 654.4L98.0 655.0L100.0 654.4L102.1 653.8L103.7 653.4L104.8 654.4L105.4 628.7L106.2 628.7L106.6 661.6L107.2 684.2L108.5 684.6L110.1 684.2L111.3 688.7L113.0 687.9L115.0 687.3L116.5 687.3L117.5 691.4L118.7 694.4L119.9 695.5L120.8 704.7L121.2 719.1L122.0 719.1L122.4 708.8L123.2 711.9L124.5 723.2L125.3 729.7L126.5 728.3L127.7 727.3L129.0 723.2L130.2 720.7L131.9 718.0L132.9 708.8L133.9 698.5L134.7 696.5L135.5 697.5L136.4 702.6L137.2 727.3L138.0 743.7L138.8 752.9L139.7 758.5L140.5 751.9L141.3 727.3L142.1 723.2L142.9 719.1L143.8 716.0L144.6 721.1L145.8 723.2L147.0 722.2L147.9 724.2L148.7 739.6L149.5 745.8L150.7 746.8L151.4 733.4L151.8 706.8L152.2 694.4L152.8 678.0L153.4 665.7L154.0 658.5L154.8 659.5L155.7 661.6L156.5 669.8L157.7 673.9L159.4 674.9L160.2 666.7L161.4 666.1L162.6 667.3L163.9 661.6L165.1 653.4L166.3 641.1L167.6 626.7L168.4 612.3L168.8 605.1L169.6 612.3L170.4 618.5L171.7 619.5L172.5 622.6L173.3 625.7L174.6 628.7L175.8 630.8L177.0 633.9L178.7 635.9L180.3 639.0L182.4 640.0L183.2 657.5L183.8 669.8L184.4 688.3L184.8 705.7L185.2 694.4L185.6 691.4L186.5 690.9L186.9 700.6L187.7 704.7L188.5 705.7L189.7 702.6L191.4 701.6L193.4 700.6L195.5 700.2L197.1 699.6L197.5 694.8L197.9 696.5L198.3 722.2L199.9 722.8L200.5 710.9L201.6 704.7L202.4 709.8L203.2 706.8L204.4 702.6L205.7 701.0L206.9 702.6L208.1 703.7L209.8 703.7L211.4 704.7L212.7 706.8L213.9 715.0L214.7 725.2L215.5 735.1L216.4 735.5L217.0 715.0L217.6 694.4L218.0 686.2L218.8 686.6L219.6 689.3L220.9 690.3L222.5 690.9L224.2 691.4L225.4 689.3L226.6 687.9L227.8 688.3L228.7 691.4L229.9 690.3L230.7 693.4L231.1 694.4L231.5 708.8L232.0 731.4L232.6 760.1L233.0 766.7L233.6 766.7L234.0 751.9L234.8 744.7L235.6 747.8L236.5 748.8L237.7 746.8L239.3 744.7L241.0 743.3L242.6 742.1L244.3 744.7L245.5 739.6L246.3 734.5L246.7 715.0L246.9 694.4L247.1 676.0L248.0 673.9L248.8 671.9L249.6 679.0L250.4 665.7L251.7 651.3L252.9 641.1L254.1 639.0L255.4 638.4L256.6 640.0L257.8 640.6L259.1 641.1L260.3 643.1L261.9 643.5L262.3 667.7L262.7 694.4L263.4 717.0L264.8 727.3L266.4 739.6L267.8 773.8L269.3 788.6L270.7 790.9L271.7 789.6L273.3 784.4L274.9 782.8L275.9 787.5L277.0 803.4L278.0 803.9L278.6 782.2L279.4 761.1L280.7 745.3L281.2 733.4L282.0 717.0L282.3 694.4L282.7 685.2L283.7 684.2L285.3 683.1L287.0 684.2L288.4 683.8L289.4 680.5L290.7 682.1L291.9 684.6L293.1 688.3L293.7 671.9L294.4 641.1L295.2 642.1L296.0 649.3L297.2 663.6L298.3 670.8L299.3 673.5L300.5 672.9L302.2 671.9L303.4 667.7L304.2 667.3L305.4 671.9L306.7 670.8L307.5 659.5L308.3 637.0L308.7 624.6L309.6 624.2L310.0 661.6L310.4 695.5L310.8 694.4L311.2 661.6L312.0 637.0L312.6 629.4L313.5 629.8L314.1 641.1L315.3 653.8L316.5 654.4L317.8 653.4L319.0 655.0L319.8 656.5L320.6 651.3L321.9 640.0L322.7 639.0L323.5 641.1L324.7 637.0L326.0 626.3L326.8 626.7L327.4 641.1L328.0 649.3L328.9 643.1L329.7 632.8L330.5 626.7L331.7 625.7L333.3 623.6L334.9 619.5L335.7 618.9L336.6 622.6L337.8 630.8L339.0 636.5L340.3 637.0L341.1 657.5L342.3 665.7L343.5 676.0L344.4 694.4L344.8 710.9L346.0 721.1L347.2 729.7L348.5 721.1L349.7 723.2L350.9 729.3L352.6 728.3L353.8 723.2L354.6 710.9L355.3 693.4L355.9 696.5L356.7 702.6L357.5 713.3L358.3 713.9L358.7 702.6L360.0 698.5L361.2 696.5L362.4 695.5L363.3 691.8L364.1 692.4L364.9 695.5L365.7 690.3L367.0 689.9L368.6 689.7L370.2 689.9L370.6 702.6L371.1 720.1L371.7 720.1L372.1 694.4L372.5 671.9L373.1 644.1L373.9 643.1L374.8 647.2L375.6 632.8L376.8 632.4L377.6 635.9L378.5 640.0L379.7 640.6L381.3 641.1L383.0 640.6L384.2 641.1L385.0 642.1L385.8 640.0L386.7 637.6L387.5 638.0L388.3 655.4L389.1 665.7L389.7 669.8L390.4 653.4L391.0 641.1L391.6 642.1L392.0 658.5L392.8 657.5L393.6 656.5L394.3 650.3L395.1 650.9L395.7 655.4L397.3 655.8L399.0 655.4L399.8 650.3L401.0 647.6L402.3 648.2L403.5 649.3L404.3 649.7L404.7 665.7L405.5 682.1L406.2 694.4L406.8 708.8L407.6 719.1L408.4 727.3L409.2 735.5L410.1 745.8L410.9 746.8L412.1 750.9L413.4 751.9L414.6 758.1L415.8 764.2L417.0 765.3L417.9 758.1L418.7 747.8L419.5 723.2L420.3 706.8L421.2 700.6L421.8 694.4L422.4 686.2L423.2 681.1L424.0 676.0L424.8 674.5L426.5 674.3L428.5 674.5L430.6 674.5L432.2 676.0L433.5 680.1L434.3 687.3L434.9 694.4L435.5 713.9L435.9 706.8L436.8 703.7L437.6 721.1L438.4 721.5L439.2 711.9L440.4 711.3L441.7 706.8L442.5 700.6L443.3 696.5L444.6 696.1L446.2 695.5L447.8 694.8L449.1 694.0L449.9 693.4L450.7 696.5L451.5 707.8L452.4 710.9L452.8 702.6L453.2 692.0L454.0 691.4L454.4 702.6L454.8 716.0L456.1 718.0L457.3 719.1L458.5 720.7L459.7 719.1L461.0 718.0L462.6 717.0L463.9 712.9L464.7 704.7L465.5 700.0L466.7 699.6L468.1 712.7L469.0 725.9L469.8 726.3L470.3 695.1L470.7 686.7L472.0 686.3L472.9 689.6L474.3 691.8L476.0 692.9L477.8 693.3L478.7 695.1L479.5 703.9L480.4 712.7L481.3 713.1L482.2 708.3L483.5 705.0L484.4 719.3L485.3 732.5L486.1 743.5L487.0 750.1L487.9 753.4L488.3 745.7L489.2 732.5L490.6 725.9L491.4 720.4L493.2 718.9L495.0 718.2L496.7 717.5L498.0 717.1L498.9 723.7L499.4 730.3L500.2 730.3L500.7 717.1L501.6 701.7L502.9 699.5L503.8 695.1L504.2 703.9L505.1 712.7L506.4 717.1L507.3 721.5L508.6 721.9L509.9 721.5L511.3 719.3L513.0 717.1L514.3 714.9L515.2 706.1L516.1 697.3L517.0 702.8L517.4 699.5L517.9 694.0L518.7 687.4L520.1 685.2L521.8 681.9L523.1 680.1L524.9 679.6L526.7 680.3L528.0 680.7L528.9 678.5L529.3 694.0L529.8 712.7L530.2 734.7L530.6 746.2L531.5 746.2L532.0 734.7L532.8 717.1L533.7 706.1L534.6 707.2L535.5 699.5L535.9 692.9L536.8 693.3L537.7 695.1L538.6 696.8L539.9 696.8L541.7 696.4L543.0 696.2L543.4 694.0L543.9 687.4L544.7 681.9L545.6 680.3L546.1 684.1L546.9 690.7L547.8 694.0L548.3 703.9L549.1 721.5L550.0 734.7L550.9 741.3L551.8 744.0L552.7 743.5L554.0 741.3L555.7 740.9L557.5 740.4L558.8 741.3L559.3 752.3L559.7 757.8L561.0 758.5L561.5 745.7L561.9 728.1L562.8 706.1L563.2 710.5L563.7 723.7L564.1 724.1L564.6 706.1L565.0 694.0L565.9 684.1L566.8 681.2L568.1 680.7L569.4 680.1L570.3 683.0L571.6 682.5L572.9 683.0L573.8 681.4L574.7 681.9L575.6 685.2L576.5 689.6L577.3 694.0L577.8 706.1L578.2 723.7L579.1 725.9L580.0 734.7L580.9 742.4L582.2 741.8L583.5 740.9L584.8 739.6L586.6 740.4L588.3 740.9L589.7 743.5L590.6 750.1L591.4 750.1L591.9 743.5L592.3 735.2L593.2 735.8L594.1 745.7L595.0 752.3L595.8 750.1L596.7 752.3L598.0 751.2L599.4 752.8L600.7 753.4L602.0 754.1L603.3 753.2L604.6 754.1L606.0 753.4L607.3 752.8L607.7 772.2L608.2 794.2L608.6 806.7L609.1 806.7L609.3 694.0" stroke="#000" stroke-width="0.95" fill="none" stroke-linejoin="round"/>
<path d="M414 814.5H611" stroke="#999" stroke-width="2.6" fill="none"/>
<text x="509.4" y="810" font-size="10" font-weight="bold" font-style="italic" text-anchor="middle" fill="#929292">Study Period</text>
<rect x="61.3" y="562.3" width="554.0" height="264.0" fill="none" stroke="#c4c4c4" stroke-width="1"/>
<path d="M58.7 814.6H61.3M58.7 774.6H61.3M58.7 734.5H61.3M58.7 694.5H61.3M58.7 654.5H61.3M58.7 614.4H61.3M58.7 574.4H61.3" stroke="#444" stroke-width="0.9" fill="none"/>
<text x="58.3" y="818.4" font-size="10.6" font-weight="bold" fill="#666666" text-anchor="end">-3</text>
<text x="58.3" y="778.4" font-size="10.6" font-weight="bold" fill="#666666" text-anchor="end">-2</text>
<text x="58.3" y="738.3" font-size="10.6" font-weight="bold" fill="#666666" text-anchor="end">-1</text>
<text x="58.3" y="698.3" font-size="10.6" font-weight="bold" fill="#666666" text-anchor="end">0</text>
<text x="58.3" y="658.2" font-size="10.6" font-weight="bold" fill="#666666" text-anchor="end">1</text>
<text x="58.3" y="618.2" font-size="10.6" font-weight="bold" fill="#666666" text-anchor="end">2</text>
<text x="58.3" y="578.1" font-size="10.6" font-weight="bold" fill="#666666" text-anchor="end">3</text>
<path d="M67.5 826.3v2.6M99 826.3v2.6M130.5 826.3v2.6M162 826.3v2.6M193.5 826.3v2.6M225 826.3v2.6M256.5 826.3v2.6M288 826.3v2.6M319.5 826.3v2.6M351 826.3v2.6M382.5 826.3v2.6M414 826.3v2.6M445.5 826.3v2.6M477 826.3v2.6M508.5 826.3v2.6M540 826.3v2.6M571.5 826.3v2.6M603 826.3v2.6" stroke="#444" stroke-width="0.9" fill="none"/>
<text x="67.5" y="837.6" font-size="11.3" font-weight="bold" fill="#666666" text-anchor="middle">1986</text>
<text x="99.0" y="837.6" font-size="11.3" font-weight="bold" fill="#666666" text-anchor="middle">1988</text>
<text x="130.5" y="837.6" font-size="11.3" font-weight="bold" fill="#666666" text-anchor="middle">1990</text>
<text x="162.0" y="837.6" font-size="11.3" font-weight="bold" fill="#666666" text-anchor="middle">1992</text>
<text x="193.5" y="837.6" font-size="11.3" font-weight="bold" fill="#666666" text-anchor="middle">1994</text>
<text x="225.0" y="837.6" font-size="11.3" font-weight="bold" fill="#666666" text-anchor="middle">1996</text>
<text x="256.5" y="837.6" font-size="11.3" font-weight="bold" fill="#666666" text-anchor="middle">1998</text>
<text x="288.0" y="837.6" font-size="11.3" font-weight="bold" fill="#666666" text-anchor="middle">2000</text>
<text x="319.5" y="837.6" font-size="11.3" font-weight="bold" fill="#666666" text-anchor="middle">2002</text>
<text x="351.0" y="837.6" font-size="11.3" font-weight="bold" fill="#666666" text-anchor="middle">2004</text>
<text x="382.5" y="837.6" font-size="11.3" font-weight="bold" fill="#666666" text-anchor="middle">2006</text>
<text x="414.0" y="837.6" font-size="11.3" font-weight="bold" fill="#666666" text-anchor="middle">2008</text>
<text x="445.5" y="837.6" font-size="11.3" font-weight="bold" fill="#666666" text-anchor="middle">2010</text>
<text x="477.0" y="837.6" font-size="11.3" font-weight="bold" fill="#666666" text-anchor="middle">2012</text>
<text x="508.5" y="837.6" font-size="11.3" font-weight="bold" fill="#666666" text-anchor="middle">2014</text>
<text x="540.0" y="837.6" font-size="11.3" font-weight="bold" fill="#666666" text-anchor="middle">2016</text>
<text x="571.5" y="837.6" font-size="11.3" font-weight="bold" fill="#666666" text-anchor="middle">2018</text>
<text x="603.0" y="837.6" font-size="11.3" font-weight="bold" fill="#666666" text-anchor="middle">2020</text>
<text x="613.2" y="586" font-size="25" text-anchor="end" fill="#111">c)</text>
<text transform="translate(43 694.5) rotate(-90)" font-weight="bold" font-size="14.1" text-anchor="middle" fill="#000">SPI - 12 Month</text>
<text x="338.7" y="851.5" font-size="13.6" font-weight="bold" text-anchor="middle" fill="#000">Time</text>
</svg>
</body></html>
